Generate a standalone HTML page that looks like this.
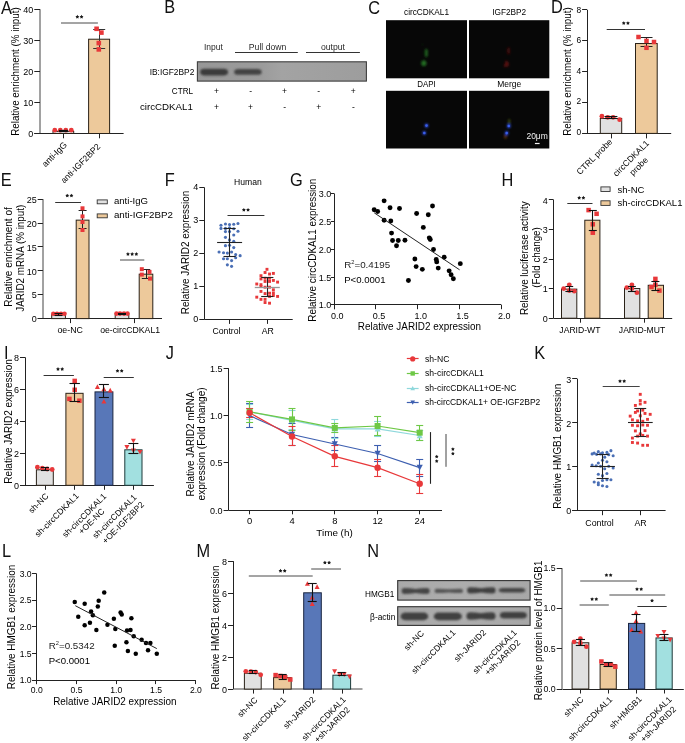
<!DOCTYPE html><html><head><meta charset="utf-8"><title>Figure</title><style>html,body{margin:0;padding:0;background:#fff;width:685px;height:743px;overflow:hidden}</style></head><body><svg width="685" height="743" viewBox="0 0 685 743" font-family='"Liberation Sans", sans-serif' style="display:block;will-change:transform"><text transform="translate(1.02 13.60) scale(0.92 1)" font-size="17.8" fill="#111">A</text>
<line x1="40.00" y1="9.20" x2="40.00" y2="133.50" stroke="#444" stroke-width="1"/>
<line x1="34.30" y1="133.50" x2="40.00" y2="133.50" stroke="#222" stroke-width="1"/>
<text x="33.30" y="137.25" font-size="9" text-anchor="end">0</text>
<line x1="34.30" y1="102.50" x2="40.00" y2="102.50" stroke="#222" stroke-width="1"/>
<text x="33.30" y="106.17" font-size="9" text-anchor="end">10</text>
<line x1="34.30" y1="71.50" x2="40.00" y2="71.50" stroke="#222" stroke-width="1"/>
<text x="33.30" y="75.10" font-size="9" text-anchor="end">20</text>
<line x1="34.30" y1="40.50" x2="40.00" y2="40.50" stroke="#222" stroke-width="1"/>
<text x="33.30" y="44.03" font-size="9" text-anchor="end">30</text>
<line x1="34.30" y1="9.50" x2="40.00" y2="9.50" stroke="#222" stroke-width="1"/>
<text x="33.30" y="12.95" font-size="9" text-anchor="end">40</text>
<text x="19.26" y="71.50" font-size="10.37" text-anchor="middle" textLength="128.50" lengthAdjust="spacingAndGlyphs" transform="rotate(-90 19.26 71.50)">Relative enrichment (% input)</text>
<line x1="34.30" y1="133.50" x2="123.60" y2="133.50" stroke="#222" stroke-width="1"/>
<rect x="53.00" y="131.36" width="20.70" height="2.14" fill="#e1e1e1" stroke="#2a2218" stroke-width="1.0"/>
<rect x="88.60" y="39.22" width="21.00" height="94.28" fill="#edc99b" stroke="#2a2218" stroke-width="1.0"/>
<circle cx="54.80" cy="130.20" r="2.40" fill="#e8383a"/>
<circle cx="60.30" cy="130.20" r="2.40" fill="#e8383a"/>
<circle cx="65.80" cy="130.20" r="2.40" fill="#e8383a"/>
<circle cx="71.30" cy="130.20" r="2.40" fill="#e8383a"/>
<line x1="63.50" y1="130.30" x2="63.50" y2="131.60" stroke="#111" stroke-width="1.2"/>
<line x1="58.90" y1="130.50" x2="67.90" y2="130.50" stroke="#111" stroke-width="1.2"/>
<line x1="58.90" y1="131.50" x2="67.90" y2="131.50" stroke="#111" stroke-width="1.2"/>
<line x1="99.50" y1="29.30" x2="99.50" y2="48.10" stroke="#333" stroke-width="1.0"/>
<line x1="93.20" y1="29.50" x2="105.20" y2="29.50" stroke="#333" stroke-width="1.0"/>
<line x1="93.20" y1="48.50" x2="105.20" y2="48.50" stroke="#333" stroke-width="1.0"/>
<rect x="94.30" y="26.50" width="4.60" height="4.60" fill="#e8383a"/>
<rect x="99.10" y="30.30" width="4.60" height="4.60" fill="#e8383a"/>
<rect x="96.50" y="40.80" width="4.60" height="4.60" fill="#e8383a"/>
<rect x="96.50" y="47.10" width="4.60" height="4.60" fill="#e8383a"/>
<line x1="63.50" y1="133.50" x2="63.50" y2="138.30" stroke="#222" stroke-width="1"/>
<line x1="99.50" y1="133.50" x2="99.50" y2="138.30" stroke="#222" stroke-width="1"/>
<line x1="61.00" y1="23.00" x2="97.90" y2="23.00" stroke="#4a4a4a" stroke-width="1.0"/>
<polygon points="77.35,14.80 78.00,15.91 79.25,16.18 78.40,17.14 78.53,18.42 77.35,17.90 76.17,18.42 76.30,17.14 75.45,16.18 76.70,15.91" fill="#1a1a1a"/>
<polygon points="81.55,14.80 82.20,15.91 83.45,16.18 82.60,17.14 82.73,18.42 81.55,17.90 80.37,18.42 80.50,17.14 79.65,16.18 80.90,15.91" fill="#1a1a1a"/>
<text x="56.54" y="156.44" font-size="8.8" text-anchor="middle" transform="rotate(-45 56.54 156.44)">anti-IgG</text>
<text x="82.59" y="165.44" font-size="8.6" text-anchor="middle" transform="rotate(-45 82.59 165.44)">anti-IGF2BP2</text>
<text transform="translate(164.16 13.40) scale(0.92 1)" font-size="17.8" fill="#111">B</text>
<text x="203.90" y="50.20" font-size="8.5" textLength="18.90" lengthAdjust="spacingAndGlyphs" fill="#2a2a2a">Input</text>
<text x="267.60" y="50.20" font-size="8.5" text-anchor="middle" textLength="37.50" lengthAdjust="spacingAndGlyphs" fill="#2a2a2a">Pull down</text>
<text x="320.90" y="50.00" font-size="8.5" textLength="24.10" lengthAdjust="spacingAndGlyphs" fill="#2a2a2a">output</text>
<line x1="235.00" y1="52.50" x2="297.80" y2="52.50" stroke="#333" stroke-width="1.1"/>
<line x1="306.00" y1="52.50" x2="359.90" y2="52.50" stroke="#333" stroke-width="1.1"/>
<defs><filter id="bb" x="-10%" y="-60%" width="120%" height="220%"><feGaussianBlur stdDeviation="0.9"/></filter><filter id="bl" x="-20%" y="-50%" width="140%" height="200%"><feGaussianBlur stdDeviation="1.0"/></filter><filter id="bl2" x="-20%" y="-80%" width="140%" height="260%"><feGaussianBlur stdDeviation="0.8"/></filter><filter id="glow" x="-100%" y="-100%" width="300%" height="300%"><feGaussianBlur stdDeviation="1.2"/></filter><linearGradient id="blotB" x1="0" x2="1" y1="0" y2="0"><stop offset="0" stop-color="#979797"/><stop offset="0.38" stop-color="#9b9b9b"/><stop offset="0.5" stop-color="#a3a3a3"/><stop offset="0.75" stop-color="#a0a0a0"/><stop offset="1" stop-color="#9d9d9d"/></linearGradient></defs>
<rect x="197.40" y="61.80" width="169.00" height="19.30" fill="url(#blotB)" stroke="#3e3e3e" stroke-width="1.1"/>
<rect x="200.10" y="68.70" width="28.00" height="6.80" rx="4.64" ry="3.70" fill="#3a3a3a" filter="url(#bb)"/>
<rect x="234.10" y="69.00" width="27.60" height="5.80" rx="4.58" ry="3.20" fill="#424242" filter="url(#bb)"/>
<text x="194.30" y="74.70" font-size="9" text-anchor="end" textLength="44.60" lengthAdjust="spacingAndGlyphs">IB:IGF2BP2</text>
<text x="193.10" y="93.90" font-size="9" text-anchor="end" textLength="21.30" lengthAdjust="spacingAndGlyphs">CTRL</text>
<text x="192.90" y="109.80" font-size="9.8" text-anchor="end" textLength="53.00" lengthAdjust="spacingAndGlyphs">circCDKAL1</text>
<text x="216.40" y="93.50" font-size="8.5" text-anchor="middle">+</text>
<text x="250.60" y="93.50" font-size="8.5" text-anchor="middle">-</text>
<text x="284.60" y="93.50" font-size="8.5" text-anchor="middle">+</text>
<text x="318.70" y="93.50" font-size="8.5" text-anchor="middle">-</text>
<text x="353.30" y="93.50" font-size="8.5" text-anchor="middle">+</text>
<text x="216.40" y="109.60" font-size="8.5" text-anchor="middle">+</text>
<text x="250.60" y="109.60" font-size="8.5" text-anchor="middle">+</text>
<text x="284.60" y="109.60" font-size="8.5" text-anchor="middle">-</text>
<text x="318.70" y="109.60" font-size="8.5" text-anchor="middle">+</text>
<text x="353.30" y="109.60" font-size="8.5" text-anchor="middle">-</text>
<text transform="translate(368.16 13.60) scale(0.92 1)" font-size="17.8" fill="#111">C</text>
<text x="426.50" y="15.10" font-size="8.5" text-anchor="middle" textLength="45.00" lengthAdjust="spacingAndGlyphs">circCDKAL1</text>
<text x="509.20" y="15.10" font-size="8.5" text-anchor="middle" textLength="34.00" lengthAdjust="spacingAndGlyphs">IGF2BP2</text>
<text x="426.50" y="87.40" font-size="8.5" text-anchor="middle" textLength="18.50" lengthAdjust="spacingAndGlyphs">DAPI</text>
<text x="509.20" y="87.40" font-size="8.5" text-anchor="middle" textLength="24.00" lengthAdjust="spacingAndGlyphs">Merge</text>
<rect x="386.00" y="20.20" width="81.00" height="58.10" fill="#070707"/>
<rect x="469.00" y="20.20" width="80.30" height="58.10" fill="#070707"/>
<rect x="386.00" y="90.80" width="81.00" height="57.70" fill="#070707"/>
<rect x="469.00" y="90.80" width="80.30" height="57.70" fill="#070707"/>
<g filter="url(#glow)"><ellipse cx="426.3" cy="53.0" rx="1.7" ry="4.2" fill="#1f5c1f"/><ellipse cx="423.8" cy="63.2" rx="2.6" ry="3.0" fill="#226a22"/><circle cx="422.5" cy="44.5" r="0.6" fill="#1a4a1a"/></g>
<g filter="url(#glow)"><ellipse cx="508.6" cy="50.8" rx="1.3" ry="3.6" fill="#4a0c0c"/><path d="M503.5,67 L506,60 L509,63 L508.5,66.5 Z" fill="#580e0e"/></g>
<g filter="url(#glow)"><ellipse cx="426.5" cy="125.6" rx="1.9" ry="2.2" fill="#2a48d0"/><ellipse cx="424.3" cy="133.0" rx="1.9" ry="2.1" fill="#2a48d0"/></g>
<circle cx="426.50" cy="125.60" r="1.30" fill="#3a5ee8"/>
<circle cx="424.30" cy="133.00" r="1.30" fill="#3a5ee8"/>
<g filter="url(#glow)"><ellipse cx="509.2" cy="121.5" rx="1.2" ry="2.8" fill="#3a4a14"/><ellipse cx="505.5" cy="136.5" rx="1.8" ry="2.4" fill="#4a2a0c"/><ellipse cx="508.8" cy="126" rx="1.9" ry="2.2" fill="#2a48d0"/><ellipse cx="506.7" cy="133.1" rx="1.9" ry="2.1" fill="#2a48d0"/></g>
<circle cx="508.80" cy="126.00" r="1.30" fill="#3a5ee8"/>
<circle cx="506.70" cy="133.10" r="1.30" fill="#3a5ee8"/>
<text x="526.40" y="139.10" font-size="8.5" textLength="21.50" lengthAdjust="spacingAndGlyphs" fill="#f2f2f2">20μm</text>
<line x1="534.90" y1="143.50" x2="539.60" y2="143.50" stroke="#f2f2f2" stroke-width="1.2"/>
<text transform="translate(550.96 13.20) scale(0.92 1)" font-size="17.8" fill="#111">D</text>
<line x1="587.50" y1="9.80" x2="587.50" y2="133.40" stroke="#222" stroke-width="1"/>
<line x1="582.10" y1="133.50" x2="587.10" y2="133.50" stroke="#222" stroke-width="1"/>
<text x="581.10" y="134.80" font-size="8.4" text-anchor="end">0</text>
<line x1="582.10" y1="102.50" x2="587.10" y2="102.50" stroke="#222" stroke-width="1"/>
<text x="581.10" y="104.40" font-size="8.4" text-anchor="end">2</text>
<line x1="582.10" y1="71.50" x2="587.10" y2="71.50" stroke="#222" stroke-width="1"/>
<text x="581.10" y="73.80" font-size="8.4" text-anchor="end">4</text>
<line x1="582.10" y1="40.50" x2="587.10" y2="40.50" stroke="#222" stroke-width="1"/>
<text x="581.10" y="43.20" font-size="8.4" text-anchor="end">6</text>
<line x1="582.10" y1="9.50" x2="587.10" y2="9.50" stroke="#222" stroke-width="1"/>
<text x="581.10" y="12.60" font-size="8.4" text-anchor="end">8</text>
<text x="571.16" y="71.50" font-size="10.37" text-anchor="middle" textLength="128.50" lengthAdjust="spacingAndGlyphs" transform="rotate(-90 571.16 71.50)">Relative enrichment (% input)</text>
<line x1="582.50" y1="133.50" x2="671.20" y2="133.50" stroke="#222" stroke-width="1"/>
<rect x="600.30" y="118.45" width="21.40" height="14.95" fill="#e1e1e1" stroke="#2a2218" stroke-width="1.0"/>
<rect x="635.50" y="43.52" width="21.70" height="89.88" fill="#edc99b" stroke="#2a2218" stroke-width="1.0"/>
<circle cx="601.90" cy="116.20" r="2.40" fill="#e8383a"/>
<circle cx="607.70" cy="117.30" r="2.40" fill="#e8383a"/>
<circle cx="613.10" cy="117.30" r="2.40" fill="#e8383a"/>
<circle cx="619.60" cy="119.70" r="2.40" fill="#e8383a"/>
<line x1="611.50" y1="116.20" x2="611.50" y2="118.60" stroke="#111" stroke-width="1.1"/>
<line x1="604.60" y1="116.50" x2="617.40" y2="116.50" stroke="#111" stroke-width="1.1"/>
<line x1="604.60" y1="118.50" x2="617.40" y2="118.50" stroke="#111" stroke-width="1.1"/>
<line x1="646.50" y1="37.70" x2="646.50" y2="46.30" stroke="#222" stroke-width="1.0"/>
<line x1="640.50" y1="37.50" x2="652.50" y2="37.50" stroke="#222" stroke-width="1.0"/>
<line x1="640.50" y1="46.50" x2="652.50" y2="46.50" stroke="#222" stroke-width="1.0"/>
<rect x="636.25" y="34.75" width="4.50" height="4.50" fill="#e8383a"/>
<rect x="644.25" y="38.65" width="4.50" height="4.50" fill="#e8383a"/>
<rect x="651.75" y="39.75" width="4.50" height="4.50" fill="#e8383a"/>
<rect x="644.25" y="45.55" width="4.50" height="4.50" fill="#e8383a"/>
<line x1="611.50" y1="133.40" x2="611.50" y2="138.40" stroke="#222" stroke-width="1"/>
<line x1="646.50" y1="133.40" x2="646.50" y2="138.40" stroke="#222" stroke-width="1"/>
<line x1="606.70" y1="29.50" x2="645.00" y2="29.50" stroke="#333" stroke-width="1.0"/>
<polygon points="623.75,21.20 624.40,22.31 625.65,22.58 624.80,23.54 624.93,24.82 623.75,24.30 622.57,24.82 622.70,23.54 621.85,22.58 623.10,22.31" fill="#1a1a1a"/>
<polygon points="627.95,21.20 628.60,22.31 629.85,22.58 629.00,23.54 629.13,24.82 627.95,24.30 626.77,24.82 626.90,23.54 626.05,22.58 627.30,22.31" fill="#1a1a1a"/>
<text x="596.54" y="158.79" font-size="8.6" text-anchor="middle" transform="rotate(-45 596.54 158.79)">CTRL probe</text>
<text x="633.14" y="160.39" font-size="8.6" text-anchor="middle" transform="rotate(-45 633.14 160.39)">circCDKAL1</text>
<text x="640.84" y="168.29" font-size="8.6" text-anchor="middle" transform="rotate(-45 640.84 168.29)">probe</text>
<text transform="translate(0.66 186.20) scale(0.92 1)" font-size="17.8" fill="#111">E</text>
<line x1="43.00" y1="199.10" x2="43.00" y2="318.60" stroke="#444" stroke-width="1"/>
<line x1="37.70" y1="318.50" x2="42.90" y2="318.50" stroke="#222" stroke-width="1"/>
<text x="36.70" y="322.35" font-size="9" text-anchor="end">0</text>
<line x1="37.70" y1="294.50" x2="42.90" y2="294.50" stroke="#222" stroke-width="1"/>
<text x="36.70" y="298.45" font-size="9" text-anchor="end">5</text>
<line x1="37.70" y1="270.50" x2="42.90" y2="270.50" stroke="#222" stroke-width="1"/>
<text x="36.70" y="274.55" font-size="9" text-anchor="end">10</text>
<line x1="37.70" y1="246.50" x2="42.90" y2="246.50" stroke="#222" stroke-width="1"/>
<text x="36.70" y="250.65" font-size="9" text-anchor="end">15</text>
<line x1="37.70" y1="223.50" x2="42.90" y2="223.50" stroke="#222" stroke-width="1"/>
<text x="36.70" y="226.75" font-size="9" text-anchor="end">20</text>
<line x1="37.70" y1="199.50" x2="42.90" y2="199.50" stroke="#222" stroke-width="1"/>
<text x="36.70" y="202.85" font-size="9" text-anchor="end">25</text>
<text x="12.16" y="257.00" font-size="10.37" text-anchor="middle" textLength="99.50" lengthAdjust="spacingAndGlyphs" transform="rotate(-90 12.16 257.00)">Relative enrichment of</text>
<text x="23.86" y="258.30" font-size="10.37" text-anchor="middle" textLength="107.00" lengthAdjust="spacingAndGlyphs" transform="rotate(-90 23.86 258.30)">JARID2 mRNA (% input)</text>
<line x1="37.70" y1="318.50" x2="162.00" y2="318.50" stroke="#222" stroke-width="1"/>
<rect x="51.70" y="314.56" width="13.70" height="4.04" fill="#e1e1e1" stroke="#2a2218" stroke-width="1.0"/>
<rect x="76.20" y="220.15" width="12.80" height="98.45" fill="#edc99b" stroke="#2a2218" stroke-width="1.0"/>
<rect x="115.20" y="314.32" width="13.60" height="4.28" fill="#e1e1e1" stroke="#2a2218" stroke-width="1.0"/>
<rect x="139.20" y="274.17" width="13.60" height="44.43" fill="#edc99b" stroke="#2a2218" stroke-width="1.0"/>
<circle cx="53.30" cy="313.80" r="2.30" fill="#e8383a"/>
<circle cx="57.00" cy="313.80" r="2.30" fill="#e8383a"/>
<circle cx="61.00" cy="313.80" r="2.30" fill="#e8383a"/>
<circle cx="64.50" cy="313.80" r="2.30" fill="#e8383a"/>
<line x1="58.50" y1="313.40" x2="58.50" y2="315.00" stroke="#111" stroke-width="1.1"/>
<line x1="54.50" y1="313.50" x2="62.50" y2="313.50" stroke="#111" stroke-width="1.1"/>
<line x1="54.50" y1="315.50" x2="62.50" y2="315.50" stroke="#111" stroke-width="1.1"/>
<circle cx="116.50" cy="313.60" r="2.30" fill="#e8383a"/>
<circle cx="120.00" cy="313.60" r="2.30" fill="#e8383a"/>
<circle cx="124.00" cy="313.60" r="2.30" fill="#e8383a"/>
<circle cx="127.50" cy="313.60" r="2.30" fill="#e8383a"/>
<line x1="122.50" y1="313.20" x2="122.50" y2="314.80" stroke="#111" stroke-width="1.1"/>
<line x1="118.00" y1="313.50" x2="126.00" y2="313.50" stroke="#111" stroke-width="1.1"/>
<line x1="118.00" y1="314.50" x2="126.00" y2="314.50" stroke="#111" stroke-width="1.1"/>
<line x1="82.50" y1="210.20" x2="82.50" y2="228.60" stroke="#222" stroke-width="1.0"/>
<line x1="78.60" y1="210.50" x2="86.60" y2="210.50" stroke="#222" stroke-width="1.0"/>
<line x1="78.60" y1="228.50" x2="86.60" y2="228.50" stroke="#222" stroke-width="1.0"/>
<rect x="80.50" y="206.30" width="4.00" height="4.00" fill="#e8383a"/>
<rect x="80.50" y="214.40" width="4.00" height="4.00" fill="#e8383a"/>
<rect x="80.50" y="220.00" width="4.00" height="4.00" fill="#e8383a"/>
<rect x="80.50" y="228.00" width="4.00" height="4.00" fill="#e8383a"/>
<line x1="146.50" y1="269.50" x2="146.50" y2="278.30" stroke="#222" stroke-width="1.0"/>
<line x1="141.80" y1="269.50" x2="150.20" y2="269.50" stroke="#222" stroke-width="1.0"/>
<line x1="141.80" y1="278.50" x2="150.20" y2="278.50" stroke="#222" stroke-width="1.0"/>
<rect x="139.80" y="267.20" width="4.00" height="4.00" fill="#e8383a"/>
<rect x="147.50" y="269.90" width="4.00" height="4.00" fill="#e8383a"/>
<rect x="139.80" y="272.60" width="4.00" height="4.00" fill="#e8383a"/>
<rect x="148.00" y="276.60" width="4.00" height="4.00" fill="#e8383a"/>
<line x1="70.50" y1="318.60" x2="70.50" y2="323.10" stroke="#222" stroke-width="1"/>
<line x1="134.50" y1="318.60" x2="134.50" y2="323.10" stroke="#222" stroke-width="1"/>
<line x1="55.20" y1="202.50" x2="81.00" y2="202.50" stroke="#333" stroke-width="1.0"/>
<polygon points="67.25,193.70 67.90,194.81 69.15,195.08 68.30,196.04 68.43,197.32 67.25,196.80 66.07,197.32 66.20,196.04 65.35,195.08 66.60,194.81" fill="#1a1a1a"/>
<polygon points="71.45,193.70 72.10,194.81 73.35,195.08 72.50,196.04 72.63,197.32 71.45,196.80 70.27,197.32 70.40,196.04 69.55,195.08 70.80,194.81" fill="#1a1a1a"/>
<line x1="120.00" y1="260.00" x2="144.30" y2="260.00" stroke="#4a4a4a" stroke-width="1.0"/>
<polygon points="127.95,252.10 128.60,253.21 129.85,253.48 129.00,254.44 129.13,255.72 127.95,255.20 126.77,255.72 126.90,254.44 126.05,253.48 127.30,253.21" fill="#1a1a1a"/>
<polygon points="132.15,252.10 132.80,253.21 134.05,253.48 133.20,254.44 133.33,255.72 132.15,255.20 130.97,255.72 131.10,254.44 130.25,253.48 131.50,253.21" fill="#1a1a1a"/>
<polygon points="136.35,252.10 137.00,253.21 138.25,253.48 137.40,254.44 137.53,255.72 136.35,255.20 135.17,255.72 135.30,254.44 134.45,253.48 135.70,253.21" fill="#1a1a1a"/>
<rect x="97.20" y="199.90" width="10.10" height="3.90" fill="#e1e1e1" stroke="#333" stroke-width="0.9"/>
<rect x="97.20" y="213.90" width="10.10" height="3.90" fill="#edc99b" stroke="#333" stroke-width="0.9"/>
<text x="113.90" y="204.20" font-size="9.5" textLength="34.20" lengthAdjust="spacingAndGlyphs">anti-IgG</text>
<text x="113.90" y="218.20" font-size="9.5" textLength="59.10" lengthAdjust="spacingAndGlyphs">anti-IGF2BP2</text>
<text x="70.15" y="333.00" font-size="8.8" text-anchor="middle">oe-NC</text>
<text x="130.15" y="333.00" font-size="8.7" text-anchor="middle">oe-circCDKAL1</text>
<text transform="translate(164.76 186.10) scale(0.92 1)" font-size="17.8" fill="#111">F</text>
<line x1="204.50" y1="187.40" x2="204.50" y2="319.40" stroke="#222" stroke-width="1"/>
<line x1="199.30" y1="319.50" x2="204.30" y2="319.50" stroke="#222" stroke-width="1"/>
<text x="198.30" y="322.40" font-size="9" text-anchor="end">0</text>
<line x1="199.30" y1="286.50" x2="204.30" y2="286.50" stroke="#222" stroke-width="1"/>
<text x="198.30" y="289.40" font-size="9" text-anchor="end">1</text>
<line x1="199.30" y1="253.50" x2="204.30" y2="253.50" stroke="#222" stroke-width="1"/>
<text x="198.30" y="256.40" font-size="9" text-anchor="end">2</text>
<line x1="199.30" y1="220.50" x2="204.30" y2="220.50" stroke="#222" stroke-width="1"/>
<text x="198.30" y="223.40" font-size="9" text-anchor="end">3</text>
<line x1="199.30" y1="187.50" x2="204.30" y2="187.50" stroke="#222" stroke-width="1"/>
<text x="198.30" y="190.40" font-size="9" text-anchor="end">4</text>
<text x="188.86" y="252.50" font-size="10.69" text-anchor="middle" textLength="123.50" lengthAdjust="spacingAndGlyphs" transform="rotate(-90 188.86 252.50)">Relative JARID2 expression</text>
<line x1="204.30" y1="319.50" x2="292.70" y2="319.50" stroke="#222" stroke-width="1"/>
<line x1="229.50" y1="319.40" x2="229.50" y2="323.90" stroke="#222" stroke-width="1"/>
<line x1="267.50" y1="319.40" x2="267.50" y2="323.90" stroke="#222" stroke-width="1"/>
<text x="247.90" y="185.30" font-size="8.6" text-anchor="middle">Human</text>
<line x1="227.50" y1="215.50" x2="264.40" y2="215.50" stroke="#333" stroke-width="1.0"/>
<polygon points="243.85,207.90 244.50,209.01 245.75,209.28 244.90,210.24 245.03,211.52 243.85,211.00 242.67,211.52 242.80,210.24 241.95,209.28 243.20,209.01" fill="#1a1a1a"/>
<polygon points="248.05,207.90 248.70,209.01 249.95,209.28 249.10,210.24 249.23,211.52 248.05,211.00 246.87,211.52 247.00,210.24 246.15,209.28 247.40,209.01" fill="#1a1a1a"/>
<circle cx="220.97" cy="225.22" r="1.55" fill="#4a6fb5"/>
<circle cx="225.45" cy="223.95" r="1.55" fill="#4a6fb5"/>
<circle cx="229.54" cy="224.58" r="1.55" fill="#4a6fb5"/>
<circle cx="233.75" cy="224.20" r="1.55" fill="#4a6fb5"/>
<circle cx="237.97" cy="223.56" r="1.55" fill="#4a6fb5"/>
<circle cx="220.97" cy="228.42" r="1.55" fill="#4a6fb5"/>
<circle cx="225.45" cy="228.42" r="1.55" fill="#4a6fb5"/>
<circle cx="229.54" cy="227.78" r="1.55" fill="#4a6fb5"/>
<circle cx="233.75" cy="228.80" r="1.55" fill="#4a6fb5"/>
<circle cx="225.45" cy="231.61" r="1.55" fill="#4a6fb5"/>
<circle cx="229.54" cy="231.61" r="1.55" fill="#4a6fb5"/>
<circle cx="237.97" cy="231.23" r="1.55" fill="#4a6fb5"/>
<circle cx="233.75" cy="235.06" r="1.55" fill="#4a6fb5"/>
<circle cx="225.45" cy="237.36" r="1.55" fill="#4a6fb5"/>
<circle cx="229.54" cy="239.92" r="1.55" fill="#4a6fb5"/>
<circle cx="233.75" cy="241.20" r="1.55" fill="#4a6fb5"/>
<circle cx="225.45" cy="245.67" r="1.55" fill="#4a6fb5"/>
<circle cx="229.54" cy="245.29" r="1.55" fill="#4a6fb5"/>
<circle cx="233.75" cy="247.59" r="1.55" fill="#4a6fb5"/>
<circle cx="219.06" cy="252.06" r="1.55" fill="#4a6fb5"/>
<circle cx="223.53" cy="252.70" r="1.55" fill="#4a6fb5"/>
<circle cx="227.36" cy="253.08" r="1.55" fill="#4a6fb5"/>
<circle cx="231.58" cy="252.06" r="1.55" fill="#4a6fb5"/>
<circle cx="235.67" cy="254.62" r="1.55" fill="#4a6fb5"/>
<circle cx="240.14" cy="255.64" r="1.55" fill="#4a6fb5"/>
<circle cx="223.53" cy="258.71" r="1.55" fill="#4a6fb5"/>
<circle cx="227.36" cy="258.71" r="1.55" fill="#4a6fb5"/>
<circle cx="231.58" cy="260.62" r="1.55" fill="#4a6fb5"/>
<circle cx="235.67" cy="257.81" r="1.55" fill="#4a6fb5"/>
<circle cx="227.36" cy="264.84" r="1.55" fill="#4a6fb5"/>
<circle cx="231.58" cy="266.37" r="1.55" fill="#4a6fb5"/>
<rect x="265.53" y="267.86" width="2.90" height="2.90" fill="#e8383a"/>
<rect x="263.61" y="271.06" width="2.90" height="2.90" fill="#e8383a"/>
<rect x="268.09" y="272.59" width="2.90" height="2.90" fill="#e8383a"/>
<rect x="271.92" y="271.95" width="2.90" height="2.90" fill="#e8383a"/>
<rect x="259.52" y="274.25" width="2.90" height="2.90" fill="#e8383a"/>
<rect x="259.52" y="277.45" width="2.90" height="2.90" fill="#e8383a"/>
<rect x="263.61" y="276.81" width="2.90" height="2.90" fill="#e8383a"/>
<rect x="268.09" y="276.81" width="2.90" height="2.90" fill="#e8383a"/>
<rect x="271.92" y="278.98" width="2.90" height="2.90" fill="#e8383a"/>
<rect x="276.14" y="280.64" width="2.90" height="2.90" fill="#e8383a"/>
<rect x="263.61" y="280.00" width="2.90" height="2.90" fill="#e8383a"/>
<rect x="268.09" y="280.00" width="2.90" height="2.90" fill="#e8383a"/>
<rect x="255.31" y="282.56" width="2.90" height="2.90" fill="#e8383a"/>
<rect x="259.52" y="283.20" width="2.90" height="2.90" fill="#e8383a"/>
<rect x="259.52" y="285.12" width="2.90" height="2.90" fill="#e8383a"/>
<rect x="263.61" y="285.75" width="2.90" height="2.90" fill="#e8383a"/>
<rect x="268.09" y="285.75" width="2.90" height="2.90" fill="#e8383a"/>
<rect x="271.92" y="288.31" width="2.90" height="2.90" fill="#e8383a"/>
<rect x="259.52" y="289.97" width="2.90" height="2.90" fill="#e8383a"/>
<rect x="263.61" y="292.14" width="2.90" height="2.90" fill="#e8383a"/>
<rect x="268.09" y="291.76" width="2.90" height="2.90" fill="#e8383a"/>
<rect x="271.92" y="291.51" width="2.90" height="2.90" fill="#e8383a"/>
<rect x="271.92" y="294.06" width="2.90" height="2.90" fill="#e8383a"/>
<rect x="276.14" y="294.96" width="2.90" height="2.90" fill="#e8383a"/>
<rect x="255.31" y="295.72" width="2.90" height="2.90" fill="#e8383a"/>
<rect x="259.52" y="297.90" width="2.90" height="2.90" fill="#e8383a"/>
<rect x="263.61" y="297.90" width="2.90" height="2.90" fill="#e8383a"/>
<rect x="263.61" y="301.09" width="2.90" height="2.90" fill="#e8383a"/>
<rect x="268.09" y="301.73" width="2.90" height="2.90" fill="#e8383a"/>
<rect x="268.09" y="294.96" width="2.90" height="2.90" fill="#e8383a"/>
<line x1="229.50" y1="228.20" x2="229.50" y2="256.30" stroke="#222" stroke-width="1.1"/>
<line x1="223.50" y1="228.50" x2="235.70" y2="228.50" stroke="#222" stroke-width="1.1"/>
<line x1="223.50" y1="256.50" x2="235.70" y2="256.50" stroke="#222" stroke-width="1.1"/>
<line x1="217.10" y1="242.50" x2="242.10" y2="242.50" stroke="#222" stroke-width="1.1"/>
<line x1="267.50" y1="277.40" x2="267.50" y2="296.10" stroke="#222" stroke-width="1.1"/>
<line x1="261.20" y1="277.50" x2="273.40" y2="277.50" stroke="#222" stroke-width="1.1"/>
<line x1="261.20" y1="296.50" x2="273.40" y2="296.50" stroke="#222" stroke-width="1.1"/>
<line x1="254.80" y1="287.50" x2="279.80" y2="287.50" stroke="#999" stroke-width="1.3"/>
<text x="226.50" y="334.30" font-size="8.7" text-anchor="middle">Control</text>
<text x="267.80" y="334.30" font-size="8.7" text-anchor="middle">AR</text>
<text transform="translate(290.08 186.20) scale(0.92 1)" font-size="17.8" fill="#111">G</text>
<line x1="334.50" y1="193.50" x2="334.50" y2="309.20" stroke="#222" stroke-width="1"/>
<line x1="330.90" y1="304.50" x2="334.20" y2="304.50" stroke="#222" stroke-width="1"/>
<text x="331.20" y="308.40" font-size="9" text-anchor="end">1.0</text>
<line x1="330.90" y1="277.50" x2="334.20" y2="277.50" stroke="#222" stroke-width="1"/>
<text x="331.20" y="280.62" font-size="9" text-anchor="end">1.5</text>
<line x1="330.90" y1="249.50" x2="334.20" y2="249.50" stroke="#222" stroke-width="1"/>
<text x="331.20" y="252.85" font-size="9" text-anchor="end">2.0</text>
<line x1="330.90" y1="221.50" x2="334.20" y2="221.50" stroke="#222" stroke-width="1"/>
<text x="331.20" y="225.07" font-size="9" text-anchor="end">2.5</text>
<line x1="330.90" y1="193.50" x2="334.20" y2="193.50" stroke="#222" stroke-width="1"/>
<text x="331.20" y="197.30" font-size="9" text-anchor="end">3.0</text>
<line x1="334.20" y1="304.50" x2="501.30" y2="304.50" stroke="#222" stroke-width="1"/>
<line x1="334.50" y1="304.90" x2="334.50" y2="309.20" stroke="#222" stroke-width="1"/>
<text x="337.20" y="318.90" font-size="9" text-anchor="middle">0.0</text>
<line x1="375.50" y1="304.90" x2="375.50" y2="309.20" stroke="#222" stroke-width="1"/>
<text x="378.95" y="318.90" font-size="9" text-anchor="middle">0.5</text>
<line x1="417.50" y1="304.90" x2="417.50" y2="309.20" stroke="#222" stroke-width="1"/>
<text x="420.70" y="318.90" font-size="9" text-anchor="middle">1.0</text>
<line x1="459.50" y1="304.90" x2="459.50" y2="309.20" stroke="#222" stroke-width="1"/>
<text x="462.45" y="318.90" font-size="9" text-anchor="middle">1.5</text>
<line x1="501.50" y1="304.90" x2="501.50" y2="309.20" stroke="#222" stroke-width="1"/>
<text x="504.20" y="318.90" font-size="9" text-anchor="middle">2.0</text>
<text x="419.45" y="329.70" font-size="10.69" text-anchor="middle" textLength="123.25" lengthAdjust="spacingAndGlyphs">Relative JARID2 expression</text>
<text x="315.56" y="250.20" font-size="10.69" text-anchor="middle" textLength="143.06" lengthAdjust="spacingAndGlyphs" transform="rotate(-90 315.56 250.20)">Relative circCDKAL1 expression</text>
<circle cx="374.18" cy="209.78" r="2.45" fill="#000"/>
<circle cx="377.65" cy="211.52" r="2.45" fill="#000"/>
<circle cx="384.11" cy="200.85" r="2.45" fill="#000"/>
<circle cx="390.06" cy="207.80" r="2.45" fill="#000"/>
<circle cx="399.50" cy="208.54" r="2.45" fill="#000"/>
<circle cx="384.11" cy="220.21" r="2.45" fill="#000"/>
<circle cx="390.81" cy="220.95" r="2.45" fill="#000"/>
<circle cx="391.55" cy="233.11" r="2.45" fill="#000"/>
<circle cx="392.55" cy="240.56" r="2.45" fill="#000"/>
<circle cx="398.26" cy="240.56" r="2.45" fill="#000"/>
<circle cx="396.52" cy="245.77" r="2.45" fill="#000"/>
<circle cx="404.96" cy="240.31" r="2.45" fill="#000"/>
<circle cx="416.62" cy="213.51" r="2.45" fill="#000"/>
<circle cx="432.51" cy="206.06" r="2.45" fill="#000"/>
<circle cx="428.29" cy="214.75" r="2.45" fill="#000"/>
<circle cx="423.32" cy="227.41" r="2.45" fill="#000"/>
<circle cx="429.28" cy="237.83" r="2.45" fill="#000"/>
<circle cx="430.27" cy="239.57" r="2.45" fill="#000"/>
<circle cx="433.50" cy="249.50" r="2.45" fill="#000"/>
<circle cx="444.17" cy="257.19" r="2.45" fill="#000"/>
<circle cx="414.88" cy="258.93" r="2.45" fill="#000"/>
<circle cx="416.13" cy="266.62" r="2.45" fill="#000"/>
<circle cx="422.33" cy="269.35" r="2.45" fill="#000"/>
<circle cx="436.23" cy="259.42" r="2.45" fill="#000"/>
<circle cx="436.73" cy="261.91" r="2.45" fill="#000"/>
<circle cx="438.22" cy="268.11" r="2.45" fill="#000"/>
<circle cx="449.14" cy="270.84" r="2.45" fill="#000"/>
<circle cx="451.12" cy="274.81" r="2.45" fill="#000"/>
<circle cx="453.36" cy="278.78" r="2.45" fill="#000"/>
<circle cx="460.31" cy="263.64" r="2.45" fill="#000"/>
<circle cx="408.43" cy="280.52" r="2.45" fill="#000"/>
<line x1="374.20" y1="212.80" x2="459.60" y2="269.80" stroke="#222" stroke-width="1.0"/>
<text x="344.20" y="267.90" font-size="9.8" fill="#1e1e1e">R<tspan font-size="5.68" dy="-3.72">2</tspan><tspan dy="3.72">=0.4195</tspan></text>
<text x="344.20" y="282.70" font-size="9.6">P&lt;0.0001</text>
<text transform="translate(501.46 186.40) scale(0.92 1)" font-size="17.8" fill="#111">H</text>
<line x1="553.50" y1="199.92" x2="553.50" y2="318.20" stroke="#222" stroke-width="1"/>
<line x1="548.80" y1="318.50" x2="553.60" y2="318.50" stroke="#222" stroke-width="1"/>
<text x="547.80" y="321.95" font-size="9" text-anchor="end">0</text>
<line x1="548.80" y1="288.50" x2="553.60" y2="288.50" stroke="#222" stroke-width="1"/>
<text x="547.80" y="292.38" font-size="9" text-anchor="end">1</text>
<line x1="548.80" y1="259.50" x2="553.60" y2="259.50" stroke="#222" stroke-width="1"/>
<text x="547.80" y="262.81" font-size="9" text-anchor="end">2</text>
<line x1="548.80" y1="229.50" x2="553.60" y2="229.50" stroke="#222" stroke-width="1"/>
<text x="547.80" y="233.24" font-size="9" text-anchor="end">3</text>
<line x1="548.80" y1="199.50" x2="553.60" y2="199.50" stroke="#222" stroke-width="1"/>
<text x="547.80" y="203.67" font-size="9" text-anchor="end">4</text>
<text x="528.36" y="258.20" font-size="10.69" text-anchor="middle" textLength="113.80" lengthAdjust="spacingAndGlyphs" transform="rotate(-90 528.36 258.20)">Relative luciferase activity</text>
<text x="539.86" y="257.40" font-size="10.69" text-anchor="middle" textLength="60.50" lengthAdjust="spacingAndGlyphs" transform="rotate(-90 539.86 257.40)">(Fold change)</text>
<line x1="553.60" y1="318.50" x2="672.20" y2="318.50" stroke="#222" stroke-width="1"/>
<rect x="561.50" y="289.13" width="15.30" height="29.07" fill="#e1e1e1" stroke="#2a2218" stroke-width="1.0"/>
<rect x="584.80" y="220.23" width="15.10" height="97.97" fill="#edc99b" stroke="#2a2218" stroke-width="1.0"/>
<rect x="624.50" y="288.54" width="15.30" height="29.66" fill="#e1e1e1" stroke="#2a2218" stroke-width="1.0"/>
<rect x="648.20" y="285.29" width="15.30" height="32.91" fill="#edc99b" stroke="#2a2218" stroke-width="1.0"/>
<line x1="580.50" y1="318.20" x2="580.50" y2="322.70" stroke="#222" stroke-width="1"/>
<line x1="644.50" y1="318.20" x2="644.50" y2="322.70" stroke="#222" stroke-width="1"/>
<line x1="567.30" y1="203.50" x2="592.50" y2="203.50" stroke="#333" stroke-width="1.0"/>
<polygon points="579.20,195.80 579.85,196.91 581.10,197.18 580.25,198.14 580.38,199.42 579.20,198.90 578.02,199.42 578.15,198.14 577.30,197.18 578.55,196.91" fill="#1a1a1a"/>
<polygon points="583.40,195.80 584.05,196.91 585.30,197.18 584.45,198.14 584.58,199.42 583.40,198.90 582.22,199.42 582.35,198.14 581.50,197.18 582.75,196.91" fill="#1a1a1a"/>
<rect x="600.90" y="186.90" width="9.20" height="4.60" fill="#e1e1e1" stroke="#333" stroke-width="0.9"/>
<rect x="600.90" y="200.80" width="9.20" height="4.60" fill="#edc99b" stroke="#333" stroke-width="0.9"/>
<text x="617.50" y="192.50" font-size="9.5">sh-NC</text>
<text x="617.50" y="206.40" font-size="9.5">sh-circCDKAL1</text>
<text x="579.90" y="332.90" font-size="8.6" text-anchor="middle">JARID-WT</text>
<text x="642.00" y="332.90" font-size="8.6" text-anchor="middle">JARID-MUT</text>
<text transform="translate(3.99 358.50) scale(0.92 1)" font-size="17.8" fill="#111">I</text>
<line x1="25.50" y1="357.30" x2="25.50" y2="485.30" stroke="#222" stroke-width="1"/>
<line x1="20.00" y1="485.50" x2="25.00" y2="485.50" stroke="#222" stroke-width="1"/>
<text x="19.00" y="489.05" font-size="9" text-anchor="end">0</text>
<line x1="20.00" y1="453.50" x2="25.00" y2="453.50" stroke="#222" stroke-width="1"/>
<text x="19.00" y="457.05" font-size="9" text-anchor="end">2</text>
<line x1="20.00" y1="421.50" x2="25.00" y2="421.50" stroke="#222" stroke-width="1"/>
<text x="19.00" y="425.05" font-size="9" text-anchor="end">4</text>
<line x1="20.00" y1="389.50" x2="25.00" y2="389.50" stroke="#222" stroke-width="1"/>
<text x="19.00" y="393.05" font-size="9" text-anchor="end">6</text>
<line x1="20.00" y1="357.50" x2="25.00" y2="357.50" stroke="#222" stroke-width="1"/>
<text x="19.00" y="361.05" font-size="9" text-anchor="end">8</text>
<text x="11.56" y="421.40" font-size="10.69" text-anchor="middle" textLength="124.50" lengthAdjust="spacingAndGlyphs" transform="rotate(-90 11.56 421.40)">Relative JARID2 expression</text>
<line x1="25.00" y1="485.50" x2="153.90" y2="485.50" stroke="#222" stroke-width="1"/>
<rect x="36.40" y="469.80" width="16.90" height="15.50" fill="#e1e1e1" stroke="#2a2218" stroke-width="1.0"/>
<rect x="65.90" y="393.32" width="17.20" height="91.98" fill="#edc99b" stroke="#2a2218" stroke-width="1.0"/>
<rect x="95.00" y="391.88" width="17.90" height="93.42" fill="#5877b8" stroke="#1a2540" stroke-width="1.0"/>
<rect x="124.80" y="449.80" width="17.20" height="35.50" fill="#a2e0e0" stroke="#1e3a3a" stroke-width="1.0"/>
<line x1="45.50" y1="485.30" x2="45.50" y2="489.80" stroke="#222" stroke-width="1"/>
<line x1="74.50" y1="485.30" x2="74.50" y2="489.80" stroke="#222" stroke-width="1"/>
<line x1="104.50" y1="485.30" x2="104.50" y2="489.80" stroke="#222" stroke-width="1"/>
<line x1="133.50" y1="485.30" x2="133.50" y2="489.80" stroke="#222" stroke-width="1"/>
<line x1="43.60" y1="375.50" x2="73.90" y2="375.50" stroke="#333" stroke-width="1.0"/>
<polygon points="58.00,367.10 58.65,368.21 59.90,368.48 59.05,369.44 59.18,370.72 58.00,370.20 56.82,370.72 56.95,369.44 56.10,368.48 57.35,368.21" fill="#1a1a1a"/>
<polygon points="62.20,367.10 62.85,368.21 64.10,368.48 63.25,369.44 63.38,370.72 62.20,370.20 61.02,370.72 61.15,369.44 60.30,368.48 61.55,368.21" fill="#1a1a1a"/>
<line x1="103.70" y1="377.50" x2="133.80" y2="377.50" stroke="#333" stroke-width="1.0"/>
<polygon points="117.50,369.00 118.15,370.11 119.40,370.38 118.55,371.34 118.68,372.62 117.50,372.10 116.32,372.62 116.45,371.34 115.60,370.38 116.85,370.11" fill="#1a1a1a"/>
<polygon points="121.70,369.00 122.35,370.11 123.60,370.38 122.75,371.34 122.88,372.62 121.70,372.10 120.52,372.62 120.65,371.34 119.80,370.38 121.05,370.11" fill="#1a1a1a"/>
<text x="40.51" y="505.21" font-size="8.5" text-anchor="middle" transform="rotate(-45 40.51 505.21)">sh-NC</text>
<text x="58.86" y="517.06" font-size="8.5" text-anchor="middle" transform="rotate(-45 58.86 517.06)">sh-circCDKAL1</text>
<text x="86.26" y="517.56" font-size="8.5" text-anchor="middle" transform="rotate(-45 86.26 517.56)">sh-circCDKAL1</text>
<text x="93.56" y="523.26" font-size="8.5" text-anchor="middle" transform="rotate(-45 93.56 523.26)">+OE-NC</text>
<text x="116.66" y="518.51" font-size="8.5" text-anchor="middle" transform="rotate(-45 116.66 518.51)">sh-circCDKAL1</text>
<text x="125.16" y="524.66" font-size="8.5" text-anchor="middle" transform="rotate(-45 125.16 524.66)">+OE-IGF2BP2</text>
<text transform="translate(165.84 358.50) scale(0.92 1)" font-size="17.8" fill="#111">J</text>
<line x1="228.50" y1="368.20" x2="228.50" y2="510.30" stroke="#222" stroke-width="1"/>
<line x1="223.60" y1="510.50" x2="228.60" y2="510.50" stroke="#222" stroke-width="1"/>
<text x="222.60" y="513.70" font-size="9" text-anchor="end">0.0</text>
<line x1="223.60" y1="462.50" x2="228.60" y2="462.50" stroke="#222" stroke-width="1"/>
<text x="222.60" y="466.35" font-size="9" text-anchor="end">0.5</text>
<line x1="223.60" y1="415.50" x2="228.60" y2="415.50" stroke="#222" stroke-width="1"/>
<text x="222.60" y="419.00" font-size="9" text-anchor="end">1.0</text>
<line x1="223.60" y1="368.50" x2="228.60" y2="368.50" stroke="#222" stroke-width="1"/>
<text x="222.60" y="371.65" font-size="9" text-anchor="end">1.5</text>
<line x1="228.60" y1="510.50" x2="442.00" y2="510.50" stroke="#222" stroke-width="1"/>
<line x1="249.50" y1="510.30" x2="249.50" y2="514.30" stroke="#222" stroke-width="1"/>
<text x="249.60" y="523.60" font-size="9.4" text-anchor="middle">0</text>
<line x1="292.50" y1="510.30" x2="292.50" y2="514.30" stroke="#222" stroke-width="1"/>
<text x="292.00" y="523.60" font-size="9.4" text-anchor="middle">4</text>
<line x1="334.50" y1="510.30" x2="334.50" y2="514.30" stroke="#222" stroke-width="1"/>
<text x="334.80" y="523.60" font-size="9.4" text-anchor="middle">8</text>
<line x1="377.50" y1="510.30" x2="377.50" y2="514.30" stroke="#222" stroke-width="1"/>
<text x="377.60" y="523.60" font-size="9.4" text-anchor="middle">12</text>
<line x1="419.50" y1="510.30" x2="419.50" y2="514.30" stroke="#222" stroke-width="1"/>
<text x="419.70" y="523.60" font-size="9.4" text-anchor="middle">24</text>
<text x="334.50" y="536.20" font-size="9.9" text-anchor="middle">Time (h)</text>
<text x="193.76" y="443.90" font-size="10.69" text-anchor="middle" textLength="105.00" lengthAdjust="spacingAndGlyphs" transform="rotate(-90 193.76 443.90)">Relative JARID2 mRNA</text>
<text x="204.60" y="443.90" font-size="10.8" text-anchor="middle" textLength="113.00" lengthAdjust="spacingAndGlyphs" transform="rotate(-90 204.60 443.90)">expression (Fold change)</text>
<polyline points="249.60,415.60 292.00,434.54 334.80,444.01 377.60,453.48 419.70,467.69" fill="none" stroke="#3d5fb0" stroke-width="1.2"/>
<line x1="249.50" y1="403.29" x2="249.50" y2="427.91" stroke="#3d5fb0" stroke-width="1.1"/>
<line x1="246.10" y1="403.50" x2="253.10" y2="403.50" stroke="#3d5fb0" stroke-width="1.1"/>
<line x1="246.10" y1="427.50" x2="253.10" y2="427.50" stroke="#3d5fb0" stroke-width="1.1"/>
<line x1="292.50" y1="423.18" x2="292.50" y2="445.90" stroke="#3d5fb0" stroke-width="1.1"/>
<line x1="288.50" y1="423.50" x2="295.50" y2="423.50" stroke="#3d5fb0" stroke-width="1.1"/>
<line x1="288.50" y1="445.50" x2="295.50" y2="445.50" stroke="#3d5fb0" stroke-width="1.1"/>
<line x1="334.50" y1="437.38" x2="334.50" y2="450.64" stroke="#3d5fb0" stroke-width="1.1"/>
<line x1="331.30" y1="437.50" x2="338.30" y2="437.50" stroke="#3d5fb0" stroke-width="1.1"/>
<line x1="331.30" y1="450.50" x2="338.30" y2="450.50" stroke="#3d5fb0" stroke-width="1.1"/>
<line x1="377.50" y1="445.90" x2="377.50" y2="461.06" stroke="#3d5fb0" stroke-width="1.1"/>
<line x1="374.10" y1="445.50" x2="381.10" y2="445.50" stroke="#3d5fb0" stroke-width="1.1"/>
<line x1="374.10" y1="461.50" x2="381.10" y2="461.50" stroke="#3d5fb0" stroke-width="1.1"/>
<line x1="419.50" y1="459.16" x2="419.50" y2="476.21" stroke="#3d5fb0" stroke-width="1.1"/>
<line x1="416.20" y1="459.50" x2="423.20" y2="459.50" stroke="#3d5fb0" stroke-width="1.1"/>
<line x1="416.20" y1="476.50" x2="423.20" y2="476.50" stroke="#3d5fb0" stroke-width="1.1"/>
<polyline points="249.60,411.81 292.00,420.34 334.80,428.86 377.60,428.86 419.70,435.49" fill="none" stroke="#8fd8dc" stroke-width="1.2"/>
<line x1="249.50" y1="404.24" x2="249.50" y2="419.39" stroke="#8fd8dc" stroke-width="1.1"/>
<line x1="246.10" y1="404.50" x2="253.10" y2="404.50" stroke="#8fd8dc" stroke-width="1.1"/>
<line x1="246.10" y1="419.50" x2="253.10" y2="419.50" stroke="#8fd8dc" stroke-width="1.1"/>
<line x1="292.50" y1="410.87" x2="292.50" y2="429.81" stroke="#8fd8dc" stroke-width="1.1"/>
<line x1="288.50" y1="410.50" x2="295.50" y2="410.50" stroke="#8fd8dc" stroke-width="1.1"/>
<line x1="288.50" y1="429.50" x2="295.50" y2="429.50" stroke="#8fd8dc" stroke-width="1.1"/>
<line x1="334.50" y1="419.39" x2="334.50" y2="438.33" stroke="#8fd8dc" stroke-width="1.1"/>
<line x1="331.30" y1="419.50" x2="338.30" y2="419.50" stroke="#8fd8dc" stroke-width="1.1"/>
<line x1="331.30" y1="438.50" x2="338.30" y2="438.50" stroke="#8fd8dc" stroke-width="1.1"/>
<line x1="377.50" y1="421.28" x2="377.50" y2="436.43" stroke="#8fd8dc" stroke-width="1.1"/>
<line x1="374.10" y1="421.50" x2="381.10" y2="421.50" stroke="#8fd8dc" stroke-width="1.1"/>
<line x1="374.10" y1="436.50" x2="381.10" y2="436.50" stroke="#8fd8dc" stroke-width="1.1"/>
<line x1="419.50" y1="430.75" x2="419.50" y2="440.22" stroke="#8fd8dc" stroke-width="1.1"/>
<line x1="416.20" y1="430.50" x2="423.20" y2="430.50" stroke="#8fd8dc" stroke-width="1.1"/>
<line x1="416.20" y1="440.50" x2="423.20" y2="440.50" stroke="#8fd8dc" stroke-width="1.1"/>
<polyline points="249.60,411.81 292.00,419.39 334.80,427.91 377.60,426.02 419.70,432.65" fill="none" stroke="#6ec846" stroke-width="1.2"/>
<line x1="249.50" y1="401.40" x2="249.50" y2="422.23" stroke="#6ec846" stroke-width="1.1"/>
<line x1="246.10" y1="401.50" x2="253.10" y2="401.50" stroke="#6ec846" stroke-width="1.1"/>
<line x1="246.10" y1="422.50" x2="253.10" y2="422.50" stroke="#6ec846" stroke-width="1.1"/>
<line x1="292.50" y1="408.02" x2="292.50" y2="430.75" stroke="#6ec846" stroke-width="1.1"/>
<line x1="288.50" y1="408.50" x2="295.50" y2="408.50" stroke="#6ec846" stroke-width="1.1"/>
<line x1="288.50" y1="430.50" x2="295.50" y2="430.50" stroke="#6ec846" stroke-width="1.1"/>
<line x1="334.50" y1="423.18" x2="334.50" y2="432.65" stroke="#6ec846" stroke-width="1.1"/>
<line x1="331.30" y1="423.50" x2="338.30" y2="423.50" stroke="#6ec846" stroke-width="1.1"/>
<line x1="331.30" y1="432.50" x2="338.30" y2="432.50" stroke="#6ec846" stroke-width="1.1"/>
<line x1="377.50" y1="416.55" x2="377.50" y2="435.49" stroke="#6ec846" stroke-width="1.1"/>
<line x1="374.10" y1="416.50" x2="381.10" y2="416.50" stroke="#6ec846" stroke-width="1.1"/>
<line x1="374.10" y1="435.50" x2="381.10" y2="435.50" stroke="#6ec846" stroke-width="1.1"/>
<line x1="419.50" y1="425.07" x2="419.50" y2="440.22" stroke="#6ec846" stroke-width="1.1"/>
<line x1="416.20" y1="425.50" x2="423.20" y2="425.50" stroke="#6ec846" stroke-width="1.1"/>
<line x1="416.20" y1="440.50" x2="423.20" y2="440.50" stroke="#6ec846" stroke-width="1.1"/>
<polyline points="249.60,412.76 292.00,436.43 334.80,456.32 377.60,467.69 419.70,483.78" fill="none" stroke="#e8383a" stroke-width="1.2"/>
<line x1="249.50" y1="408.02" x2="249.50" y2="417.49" stroke="#e8383a" stroke-width="1.1"/>
<line x1="246.10" y1="408.50" x2="253.10" y2="408.50" stroke="#e8383a" stroke-width="1.1"/>
<line x1="246.10" y1="417.50" x2="253.10" y2="417.50" stroke="#e8383a" stroke-width="1.1"/>
<line x1="292.50" y1="426.96" x2="292.50" y2="445.90" stroke="#e8383a" stroke-width="1.1"/>
<line x1="288.50" y1="426.50" x2="295.50" y2="426.50" stroke="#e8383a" stroke-width="1.1"/>
<line x1="288.50" y1="445.50" x2="295.50" y2="445.50" stroke="#e8383a" stroke-width="1.1"/>
<line x1="334.50" y1="445.90" x2="334.50" y2="466.74" stroke="#e8383a" stroke-width="1.1"/>
<line x1="331.30" y1="445.50" x2="338.30" y2="445.50" stroke="#e8383a" stroke-width="1.1"/>
<line x1="331.30" y1="466.50" x2="338.30" y2="466.50" stroke="#e8383a" stroke-width="1.1"/>
<line x1="377.50" y1="459.16" x2="377.50" y2="476.21" stroke="#e8383a" stroke-width="1.1"/>
<line x1="374.10" y1="459.50" x2="381.10" y2="459.50" stroke="#e8383a" stroke-width="1.1"/>
<line x1="374.10" y1="476.50" x2="381.10" y2="476.50" stroke="#e8383a" stroke-width="1.1"/>
<line x1="419.50" y1="474.31" x2="419.50" y2="493.25" stroke="#e8383a" stroke-width="1.1"/>
<line x1="416.20" y1="474.50" x2="423.20" y2="474.50" stroke="#e8383a" stroke-width="1.1"/>
<line x1="416.20" y1="493.50" x2="423.20" y2="493.50" stroke="#e8383a" stroke-width="1.1"/>
<polygon points="249.60,418.45 252.70,412.75 246.50,412.75" fill="#3d5fb0"/>
<polygon points="292.00,437.39 295.10,431.69 288.90,431.69" fill="#3d5fb0"/>
<polygon points="334.80,446.86 337.90,441.16 331.70,441.16" fill="#3d5fb0"/>
<polygon points="377.60,456.33 380.70,450.63 374.50,450.63" fill="#3d5fb0"/>
<polygon points="419.70,470.54 422.80,464.83 416.60,464.83" fill="#3d5fb0"/>
<polygon points="249.60,409.05 252.60,414.57 246.60,414.57" fill="#8fd8dc"/>
<polygon points="292.00,417.58 295.00,423.10 289.00,423.10" fill="#8fd8dc"/>
<polygon points="334.80,426.10 337.80,431.62 331.80,431.62" fill="#8fd8dc"/>
<polygon points="377.60,426.10 380.60,431.62 374.60,431.62" fill="#8fd8dc"/>
<polygon points="419.70,432.73 422.70,438.25 416.70,438.25" fill="#8fd8dc"/>
<rect x="246.60" y="408.81" width="6.00" height="6.00" fill="#6ec846"/>
<rect x="289.00" y="416.39" width="6.00" height="6.00" fill="#6ec846"/>
<rect x="331.80" y="424.91" width="6.00" height="6.00" fill="#6ec846"/>
<rect x="374.60" y="423.02" width="6.00" height="6.00" fill="#6ec846"/>
<rect x="416.70" y="429.65" width="6.00" height="6.00" fill="#6ec846"/>
<circle cx="249.60" cy="412.76" r="3.20" fill="#e8383a"/>
<circle cx="292.00" cy="436.43" r="3.20" fill="#e8383a"/>
<circle cx="334.80" cy="456.32" r="3.20" fill="#e8383a"/>
<circle cx="377.60" cy="467.69" r="3.20" fill="#e8383a"/>
<circle cx="419.70" cy="483.78" r="3.20" fill="#e8383a"/>
<line x1="430.50" y1="432.10" x2="430.50" y2="483.80" stroke="#222" stroke-width="1.1"/>
<polygon points="436.70,454.80 437.31,455.85 438.51,456.11 437.69,457.02 437.82,458.24 436.70,457.75 435.58,458.24 435.71,457.02 434.89,456.11 436.09,455.85" fill="#1a1a1a"/>
<polygon points="436.70,459.20 437.31,460.25 438.51,460.51 437.69,461.42 437.82,462.64 436.70,462.15 435.58,462.64 435.71,461.42 434.89,460.51 436.09,460.25" fill="#1a1a1a"/>
<line x1="446.00" y1="434.00" x2="446.00" y2="466.80" stroke="#444" stroke-width="1.0"/>
<polygon points="452.90,447.30 453.51,448.35 454.71,448.61 453.89,449.52 454.02,450.74 452.90,450.25 451.78,450.74 451.91,449.52 451.09,448.61 452.29,448.35" fill="#1a1a1a"/>
<polygon points="452.90,451.70 453.51,452.75 454.71,453.01 453.89,453.92 454.02,455.14 452.90,454.65 451.78,455.14 451.91,453.92 451.09,453.01 452.29,452.75" fill="#1a1a1a"/>
<line x1="406.80" y1="358.50" x2="418.60" y2="358.50" stroke="#e8383a" stroke-width="1.2"/>
<circle cx="412.70" cy="358.90" r="2.60" fill="#e8383a"/>
<text x="425.00" y="361.50" font-size="8.6">sh-NC</text>
<line x1="406.80" y1="373.50" x2="418.60" y2="373.50" stroke="#6ec846" stroke-width="1.2"/>
<rect x="410.50" y="371.27" width="4.40" height="4.40" fill="#6ec846"/>
<text x="425.00" y="376.07" font-size="8.6">sh-circCDKAL1</text>
<line x1="406.80" y1="388.50" x2="418.60" y2="388.50" stroke="#8fd8dc" stroke-width="1.2"/>
<polygon points="412.70,385.92 415.00,390.16 410.40,390.16" fill="#8fd8dc"/>
<text x="425.00" y="390.64" font-size="8.6">sh-circCDKAL1+OE-NC</text>
<line x1="406.80" y1="402.50" x2="418.60" y2="402.50" stroke="#3d5fb0" stroke-width="1.2"/>
<polygon points="412.70,404.73 415.00,400.49 410.40,400.49" fill="#3d5fb0"/>
<text x="425.00" y="405.21" font-size="8.6" textLength="115.30" lengthAdjust="spacingAndGlyphs">sh-circCDKAL1+ OE-IGF2BP2</text>
<text transform="translate(534.36 358.60) scale(0.92 1)" font-size="17.8" fill="#111">K</text>
<line x1="577.50" y1="378.79" x2="577.50" y2="510.70" stroke="#222" stroke-width="1"/>
<line x1="572.20" y1="510.50" x2="577.20" y2="510.50" stroke="#222" stroke-width="1"/>
<text x="571.20" y="514.45" font-size="9" text-anchor="end">0</text>
<line x1="572.20" y1="466.50" x2="577.20" y2="466.50" stroke="#222" stroke-width="1"/>
<text x="571.20" y="470.48" font-size="9" text-anchor="end">1</text>
<line x1="572.20" y1="422.50" x2="577.20" y2="422.50" stroke="#222" stroke-width="1"/>
<text x="571.20" y="426.51" font-size="9" text-anchor="end">2</text>
<line x1="572.20" y1="378.50" x2="577.20" y2="378.50" stroke="#222" stroke-width="1"/>
<text x="571.20" y="382.54" font-size="9" text-anchor="end">3</text>
<text x="560.56" y="446.30" font-size="10.69" text-anchor="middle" textLength="125.00" lengthAdjust="spacingAndGlyphs" transform="rotate(-90 560.56 446.30)">Relative HMGB1 expression</text>
<line x1="572.20" y1="510.50" x2="665.60" y2="510.50" stroke="#222" stroke-width="1"/>
<line x1="602.50" y1="510.70" x2="602.50" y2="515.20" stroke="#222" stroke-width="1"/>
<line x1="640.50" y1="510.70" x2="640.50" y2="515.20" stroke="#222" stroke-width="1"/>
<line x1="602.70" y1="386.50" x2="639.70" y2="386.50" stroke="#444" stroke-width="1.0"/>
<polygon points="620.00,379.20 620.65,380.31 621.90,380.58 621.05,381.54 621.18,382.82 620.00,382.30 618.82,382.82 618.95,381.54 618.10,380.58 619.35,380.31" fill="#1a1a1a"/>
<polygon points="624.20,379.20 624.85,380.31 626.10,380.58 625.25,381.54 625.38,382.82 624.20,382.30 623.02,382.82 623.15,381.54 622.30,380.58 623.55,380.31" fill="#1a1a1a"/>
<circle cx="592.11" cy="453.89" r="1.55" fill="#4a6fb5"/>
<circle cx="594.19" cy="453.15" r="1.55" fill="#4a6fb5"/>
<circle cx="598.33" cy="451.67" r="1.55" fill="#4a6fb5"/>
<circle cx="602.48" cy="452.85" r="1.55" fill="#4a6fb5"/>
<circle cx="606.93" cy="452.41" r="1.55" fill="#4a6fb5"/>
<circle cx="610.93" cy="450.63" r="1.55" fill="#4a6fb5"/>
<circle cx="596.56" cy="454.33" r="1.55" fill="#4a6fb5"/>
<circle cx="600.56" cy="453.89" r="1.55" fill="#4a6fb5"/>
<circle cx="608.70" cy="454.63" r="1.55" fill="#4a6fb5"/>
<circle cx="613.15" cy="455.81" r="1.55" fill="#4a6fb5"/>
<circle cx="604.70" cy="457.15" r="1.55" fill="#4a6fb5"/>
<circle cx="602.48" cy="460.26" r="1.55" fill="#4a6fb5"/>
<circle cx="606.93" cy="461.74" r="1.55" fill="#4a6fb5"/>
<circle cx="598.33" cy="463.07" r="1.55" fill="#4a6fb5"/>
<circle cx="592.11" cy="465.00" r="1.55" fill="#4a6fb5"/>
<circle cx="596.11" cy="465.74" r="1.55" fill="#4a6fb5"/>
<circle cx="600.56" cy="466.19" r="1.55" fill="#4a6fb5"/>
<circle cx="604.70" cy="468.70" r="1.55" fill="#4a6fb5"/>
<circle cx="608.70" cy="466.19" r="1.55" fill="#4a6fb5"/>
<circle cx="613.15" cy="467.96" r="1.55" fill="#4a6fb5"/>
<circle cx="598.33" cy="474.19" r="1.55" fill="#4a6fb5"/>
<circle cx="602.48" cy="475.67" r="1.55" fill="#4a6fb5"/>
<circle cx="606.93" cy="473.44" r="1.55" fill="#4a6fb5"/>
<circle cx="594.19" cy="482.04" r="1.55" fill="#4a6fb5"/>
<circle cx="598.33" cy="482.78" r="1.55" fill="#4a6fb5"/>
<circle cx="598.33" cy="484.70" r="1.55" fill="#4a6fb5"/>
<circle cx="602.48" cy="485.74" r="1.55" fill="#4a6fb5"/>
<circle cx="606.93" cy="486.48" r="1.55" fill="#4a6fb5"/>
<circle cx="602.48" cy="480.56" r="1.55" fill="#4a6fb5"/>
<circle cx="606.93" cy="479.81" r="1.55" fill="#4a6fb5"/>
<circle cx="610.93" cy="479.81" r="1.55" fill="#4a6fb5"/>
<rect x="638.81" y="392.88" width="2.90" height="2.90" fill="#e8383a"/>
<rect x="638.81" y="399.11" width="2.90" height="2.90" fill="#e8383a"/>
<rect x="643.55" y="400.88" width="2.90" height="2.90" fill="#e8383a"/>
<rect x="638.81" y="402.51" width="2.90" height="2.90" fill="#e8383a"/>
<rect x="633.92" y="403.99" width="2.90" height="2.90" fill="#e8383a"/>
<rect x="633.92" y="410.96" width="2.90" height="2.90" fill="#e8383a"/>
<rect x="636.14" y="409.48" width="2.90" height="2.90" fill="#e8383a"/>
<rect x="641.33" y="408.74" width="2.90" height="2.90" fill="#e8383a"/>
<rect x="643.55" y="411.99" width="2.90" height="2.90" fill="#e8383a"/>
<rect x="648.74" y="412.88" width="2.90" height="2.90" fill="#e8383a"/>
<rect x="628.74" y="414.66" width="2.90" height="2.90" fill="#e8383a"/>
<rect x="638.81" y="414.36" width="2.90" height="2.90" fill="#e8383a"/>
<rect x="630.96" y="418.36" width="2.90" height="2.90" fill="#e8383a"/>
<rect x="636.14" y="419.40" width="2.90" height="2.90" fill="#e8383a"/>
<rect x="641.33" y="419.85" width="2.90" height="2.90" fill="#e8383a"/>
<rect x="646.07" y="417.92" width="2.90" height="2.90" fill="#e8383a"/>
<rect x="630.96" y="423.85" width="2.90" height="2.90" fill="#e8383a"/>
<rect x="636.14" y="424.29" width="2.90" height="2.90" fill="#e8383a"/>
<rect x="641.33" y="423.55" width="2.90" height="2.90" fill="#e8383a"/>
<rect x="646.07" y="423.85" width="2.90" height="2.90" fill="#e8383a"/>
<rect x="633.92" y="429.48" width="2.90" height="2.90" fill="#e8383a"/>
<rect x="643.55" y="429.18" width="2.90" height="2.90" fill="#e8383a"/>
<rect x="638.81" y="432.44" width="2.90" height="2.90" fill="#e8383a"/>
<rect x="636.14" y="434.66" width="2.90" height="2.90" fill="#e8383a"/>
<rect x="641.33" y="433.92" width="2.90" height="2.90" fill="#e8383a"/>
<rect x="646.07" y="434.66" width="2.90" height="2.90" fill="#e8383a"/>
<rect x="630.96" y="436.59" width="2.90" height="2.90" fill="#e8383a"/>
<rect x="630.96" y="441.03" width="2.90" height="2.90" fill="#e8383a"/>
<rect x="636.14" y="441.62" width="2.90" height="2.90" fill="#e8383a"/>
<rect x="641.33" y="443.85" width="2.90" height="2.90" fill="#e8383a"/>
<rect x="646.07" y="443.85" width="2.90" height="2.90" fill="#e8383a"/>
<line x1="602.50" y1="454.30" x2="602.50" y2="478.30" stroke="#222" stroke-width="1.1"/>
<line x1="596.60" y1="454.50" x2="608.70" y2="454.50" stroke="#222" stroke-width="1.1"/>
<line x1="596.60" y1="478.50" x2="608.70" y2="478.50" stroke="#222" stroke-width="1.1"/>
<line x1="590.20" y1="466.50" x2="614.90" y2="466.50" stroke="#222" stroke-width="1.1"/>
<line x1="640.50" y1="408.40" x2="640.50" y2="436.60" stroke="#222" stroke-width="1.1"/>
<line x1="634.30" y1="408.50" x2="646.20" y2="408.50" stroke="#222" stroke-width="1.1"/>
<line x1="634.30" y1="436.50" x2="646.20" y2="436.50" stroke="#222" stroke-width="1.1"/>
<line x1="628.00" y1="422.50" x2="652.70" y2="422.50" stroke="#222" stroke-width="1.1"/>
<text x="599.50" y="525.50" font-size="8.8" text-anchor="middle">Control</text>
<text x="640.60" y="525.50" font-size="8.8" text-anchor="middle">AR</text>
<text transform="translate(1.96 556.80) scale(0.92 1)" font-size="17.8" fill="#111">L</text>
<line x1="36.50" y1="573.60" x2="36.50" y2="684.10" stroke="#222" stroke-width="1"/>
<line x1="32.00" y1="680.50" x2="36.50" y2="680.50" stroke="#222" stroke-width="1"/>
<text x="31.60" y="683.20" font-size="8.6" text-anchor="end">1.0</text>
<line x1="32.00" y1="653.50" x2="36.50" y2="653.50" stroke="#222" stroke-width="1"/>
<text x="31.60" y="656.58" font-size="8.6" text-anchor="end">1.5</text>
<line x1="32.00" y1="626.50" x2="36.50" y2="626.50" stroke="#222" stroke-width="1"/>
<text x="31.60" y="629.95" font-size="8.6" text-anchor="end">2.0</text>
<line x1="32.00" y1="600.50" x2="36.50" y2="600.50" stroke="#222" stroke-width="1"/>
<text x="31.60" y="603.33" font-size="8.6" text-anchor="end">2.5</text>
<line x1="32.00" y1="573.50" x2="36.50" y2="573.50" stroke="#222" stroke-width="1"/>
<text x="31.60" y="576.70" font-size="8.6" text-anchor="end">3.0</text>
<line x1="36.50" y1="680.50" x2="195.60" y2="680.50" stroke="#222" stroke-width="1"/>
<line x1="36.50" y1="680.10" x2="36.50" y2="684.10" stroke="#222" stroke-width="1"/>
<text x="36.70" y="693.20" font-size="8.6" text-anchor="middle">0.0</text>
<line x1="76.50" y1="680.10" x2="76.50" y2="684.10" stroke="#222" stroke-width="1"/>
<text x="76.50" y="693.20" font-size="8.6" text-anchor="middle">0.5</text>
<line x1="116.50" y1="680.10" x2="116.50" y2="684.10" stroke="#222" stroke-width="1"/>
<text x="116.30" y="693.20" font-size="8.6" text-anchor="middle">1.0</text>
<line x1="155.50" y1="680.10" x2="155.50" y2="684.10" stroke="#222" stroke-width="1"/>
<text x="156.10" y="693.20" font-size="8.6" text-anchor="middle">1.5</text>
<line x1="195.50" y1="680.10" x2="195.50" y2="684.10" stroke="#222" stroke-width="1"/>
<text x="195.90" y="693.20" font-size="8.6" text-anchor="middle">2.0</text>
<text x="114.80" y="704.90" font-size="10.69" text-anchor="middle" textLength="123.25" lengthAdjust="spacingAndGlyphs">Relative JARID2 expression</text>
<text x="15.46" y="627.00" font-size="10.69" text-anchor="middle" textLength="124.35" lengthAdjust="spacingAndGlyphs" transform="rotate(-90 15.46 627.00)">Relative HMGB1 expression</text>
<circle cx="74.74" cy="601.90" r="2.25" fill="#000"/>
<circle cx="84.67" cy="603.65" r="2.25" fill="#000"/>
<circle cx="78.25" cy="616.79" r="2.25" fill="#000"/>
<circle cx="84.67" cy="625.26" r="2.25" fill="#000"/>
<circle cx="91.09" cy="611.53" r="2.25" fill="#000"/>
<circle cx="92.85" cy="615.33" r="2.25" fill="#000"/>
<circle cx="89.93" cy="622.63" r="2.25" fill="#000"/>
<circle cx="97.81" cy="606.57" r="2.25" fill="#000"/>
<circle cx="98.69" cy="600.73" r="2.25" fill="#000"/>
<circle cx="104.23" cy="592.55" r="2.25" fill="#000"/>
<circle cx="96.35" cy="629.93" r="2.25" fill="#000"/>
<circle cx="107.45" cy="624.67" r="2.25" fill="#000"/>
<circle cx="113.87" cy="618.83" r="2.25" fill="#000"/>
<circle cx="115.33" cy="629.05" r="2.25" fill="#000"/>
<circle cx="120.58" cy="612.41" r="2.25" fill="#000"/>
<circle cx="121.75" cy="614.45" r="2.25" fill="#000"/>
<circle cx="131.39" cy="618.25" r="2.25" fill="#000"/>
<circle cx="127.01" cy="630.51" r="2.25" fill="#000"/>
<circle cx="130.51" cy="629.93" r="2.25" fill="#000"/>
<circle cx="133.72" cy="636.35" r="2.25" fill="#000"/>
<circle cx="126.42" cy="642.19" r="2.25" fill="#000"/>
<circle cx="127.88" cy="650.95" r="2.25" fill="#000"/>
<circle cx="114.74" cy="645.69" r="2.25" fill="#000"/>
<circle cx="135.77" cy="653.87" r="2.25" fill="#000"/>
<circle cx="141.61" cy="639.85" r="2.25" fill="#000"/>
<circle cx="145.99" cy="643.07" r="2.25" fill="#000"/>
<circle cx="150.36" cy="643.07" r="2.25" fill="#000"/>
<circle cx="148.03" cy="650.36" r="2.25" fill="#000"/>
<circle cx="156.79" cy="653.87" r="2.25" fill="#000"/>
<line x1="75.30" y1="605.70" x2="156.80" y2="648.60" stroke="#222" stroke-width="1.0"/>
<text x="48.70" y="649.00" font-size="9.8" fill="#1e1e1e">R<tspan font-size="5.68" dy="-3.72">2</tspan><tspan dy="3.72">=0.5342</tspan></text>
<text x="48.70" y="663.70" font-size="9.6">P&lt;0.0001</text>
<text transform="translate(196.56 556.60) scale(0.92 1)" font-size="17.8" fill="#111">M</text>
<line x1="233.50" y1="561.10" x2="233.50" y2="689.10" stroke="#222" stroke-width="1"/>
<line x1="228.00" y1="689.50" x2="233.00" y2="689.50" stroke="#222" stroke-width="1"/>
<text x="227.00" y="692.85" font-size="9" text-anchor="end">0</text>
<line x1="228.00" y1="657.50" x2="233.00" y2="657.50" stroke="#222" stroke-width="1"/>
<text x="227.00" y="660.85" font-size="9" text-anchor="end">2</text>
<line x1="228.00" y1="625.50" x2="233.00" y2="625.50" stroke="#222" stroke-width="1"/>
<text x="227.00" y="628.85" font-size="9" text-anchor="end">4</text>
<line x1="228.00" y1="593.50" x2="233.00" y2="593.50" stroke="#222" stroke-width="1"/>
<text x="227.00" y="596.85" font-size="9" text-anchor="end">6</text>
<line x1="228.00" y1="561.50" x2="233.00" y2="561.50" stroke="#222" stroke-width="1"/>
<text x="227.00" y="564.85" font-size="9" text-anchor="end">8</text>
<text x="219.06" y="627.40" font-size="10.69" text-anchor="middle" textLength="124.00" lengthAdjust="spacingAndGlyphs" transform="rotate(-90 219.06 627.40)">Relative HMGB1 expression</text>
<line x1="233.00" y1="689.00" x2="362.50" y2="689.00" stroke="#444" stroke-width="1"/>
<rect x="244.40" y="673.28" width="16.80" height="15.82" fill="#e1e1e1" stroke="#2a2218" stroke-width="1.0"/>
<rect x="273.60" y="677.60" width="17.60" height="11.50" fill="#edc99b" stroke="#2a2218" stroke-width="1.0"/>
<rect x="303.70" y="592.80" width="17.60" height="96.30" fill="#5877b8" stroke="#1a2540" stroke-width="1.0"/>
<rect x="332.90" y="675.20" width="17.70" height="13.90" fill="#a2e0e0" stroke="#1e3a3a" stroke-width="1.0"/>
<line x1="253.50" y1="689.10" x2="253.50" y2="693.60" stroke="#222" stroke-width="1"/>
<line x1="283.50" y1="689.10" x2="283.50" y2="693.60" stroke="#222" stroke-width="1"/>
<line x1="313.50" y1="689.10" x2="313.50" y2="693.60" stroke="#222" stroke-width="1"/>
<line x1="342.50" y1="689.10" x2="342.50" y2="693.60" stroke="#222" stroke-width="1"/>
<line x1="248.80" y1="576.00" x2="312.70" y2="576.00" stroke="#4a4a4a" stroke-width="1.0"/>
<polygon points="280.50,568.80 281.15,569.91 282.40,570.18 281.55,571.14 281.68,572.42 280.50,571.90 279.32,572.42 279.45,571.14 278.60,570.18 279.85,569.91" fill="#1a1a1a"/>
<polygon points="284.70,568.80 285.35,569.91 286.60,570.18 285.75,571.14 285.88,572.42 284.70,571.90 283.52,572.42 283.65,571.14 282.80,570.18 284.05,569.91" fill="#1a1a1a"/>
<line x1="311.20" y1="569.00" x2="341.00" y2="569.00" stroke="#4a4a4a" stroke-width="1.0"/>
<polygon points="324.90,560.70 325.55,561.81 326.80,562.08 325.95,563.04 326.08,564.32 324.90,563.80 323.72,564.32 323.85,563.04 323.00,562.08 324.25,561.81" fill="#1a1a1a"/>
<polygon points="329.10,560.70 329.75,561.81 331.00,562.08 330.15,563.04 330.28,564.32 329.10,563.80 327.92,564.32 328.05,563.04 327.20,562.08 328.45,561.81" fill="#1a1a1a"/>
<text x="249.51" y="709.21" font-size="8.5" text-anchor="middle" transform="rotate(-45 249.51 709.21)">sh-NC</text>
<text x="266.11" y="721.01" font-size="8.5" text-anchor="middle" transform="rotate(-45 266.11 721.01)">sh-circCDKAL1</text>
<text x="301.21" y="714.81" font-size="8.5" text-anchor="middle" transform="rotate(-45 301.21 714.81)">sh-JARID2</text>
<text x="325.91" y="720.81" font-size="8.5" text-anchor="middle" transform="rotate(-45 325.91 720.81)">sh-circCDKAL1</text>
<text x="334.11" y="726.71" font-size="8.5" text-anchor="middle" transform="rotate(-45 334.11 726.71)">+sh-JARID2</text>
<text transform="translate(367.16 556.60) scale(0.92 1)" font-size="17.8" fill="#111">N</text>
<defs><linearGradient id="blotN" x1="0" x2="1"><stop offset="0" stop-color="#a9a9a9"/><stop offset="0.5" stop-color="#adadad"/><stop offset="1" stop-color="#a7a7a7"/></linearGradient></defs>
<rect x="397.70" y="580.60" width="132.40" height="19.50" fill="url(#blotN)" stroke="#333" stroke-width="1.1"/>
<rect x="397.70" y="606.70" width="132.40" height="18.70" fill="url(#blotN)" stroke="#333" stroke-width="1.1"/>
<path d="M404.50,588.10 Q410.03,588.10 415.65,588.97 Q421.27,588.10 426.80,588.10 A2.90,2.90 0 0 1 426.80,593.90 Q421.27,593.90 415.65,593.03 Q410.03,593.90 404.50,593.90 A2.90,2.90 0 0 1 404.50,588.10 Z" fill="#454545" filter="url(#bb)"/>
<path d="M436.80,588.70 Q443.12,588.70 448.80,589.36 Q454.48,588.70 460.80,588.70 A2.20,2.20 0 0 1 460.80,593.10 Q454.48,593.10 448.80,592.44 Q443.12,593.10 436.80,593.10 A2.20,2.20 0 0 1 436.80,588.70 Z" fill="#555555" filter="url(#bb)"/>
<path d="M470.15,587.35 Q475.65,587.35 481.35,588.26 Q487.05,587.35 492.55,587.35 A3.05,3.05 0 0 1 492.55,593.45 Q487.05,593.45 481.35,592.53 Q475.65,593.45 470.15,593.45 A3.05,3.05 0 0 1 470.15,587.35 Z" fill="#404040" filter="url(#bb)"/>
<rect x="498.80" y="588.10" width="26.40" height="4.40" rx="4.38" ry="2.50" fill="#454545" filter="url(#bb)"/>
<rect x="400.60" y="612.60" width="27.60" height="7.60" rx="4.58" ry="4.10" fill="#404040" filter="url(#bb)"/>
<rect x="433.80" y="612.60" width="28.10" height="7.60" rx="4.66" ry="4.10" fill="#404040" filter="url(#bb)"/>
<path d="M470.25,612.15 Q475.16,612.15 481.00,613.30 Q486.84,612.15 491.75,612.15 A3.85,3.85 0 0 1 491.75,619.85 Q486.84,619.85 481.00,618.70 Q475.16,619.85 470.25,619.85 A3.85,3.85 0 0 1 470.25,612.15 Z" fill="#404040" filter="url(#bb)"/>
<rect x="499.90" y="612.05" width="26.90" height="6.50" rx="4.46" ry="3.55" fill="#404040" filter="url(#bb)"/>
<text x="394.30" y="597.20" font-size="9" text-anchor="end" textLength="29.20" lengthAdjust="spacingAndGlyphs">HMGB1</text>
<text x="395.40" y="619.70" font-size="9" text-anchor="end" textLength="25.30" lengthAdjust="spacingAndGlyphs">β-actin</text>
<text x="416.01" y="642.41" font-size="8.5" text-anchor="middle" transform="rotate(-45 416.01 642.41)">sh-NC</text>
<text x="435.51" y="653.81" font-size="8.5" text-anchor="middle" transform="rotate(-45 435.51 653.81)">sh-circCDKAL1</text>
<text x="472.01" y="647.61" font-size="8.5" text-anchor="middle" transform="rotate(-45 472.01 647.61)">sh-JARID2</text>
<text x="496.91" y="653.81" font-size="8.5" text-anchor="middle" transform="rotate(-45 496.91 653.81)">sh-circCDKAL1</text>
<text x="504.51" y="659.51" font-size="8.5" text-anchor="middle" transform="rotate(-45 504.51 659.51)">+sh-JARID2</text>
<line x1="562.00" y1="568.10" x2="562.00" y2="689.00" stroke="#444" stroke-width="1"/>
<line x1="556.70" y1="689.50" x2="562.00" y2="689.50" stroke="#222" stroke-width="1"/>
<text x="555.70" y="692.00" font-size="8.8" text-anchor="end">0.0</text>
<line x1="556.70" y1="648.50" x2="562.00" y2="648.50" stroke="#222" stroke-width="1"/>
<text x="555.70" y="651.70" font-size="8.8" text-anchor="end">0.5</text>
<line x1="556.70" y1="608.50" x2="562.00" y2="608.50" stroke="#222" stroke-width="1"/>
<text x="555.70" y="611.40" font-size="8.8" text-anchor="end">1.0</text>
<line x1="556.70" y1="568.50" x2="562.00" y2="568.50" stroke="#222" stroke-width="1"/>
<text x="555.70" y="571.10" font-size="8.8" text-anchor="end">1.5</text>
<text x="541.63" y="630.45" font-size="10.58" text-anchor="middle" textLength="139.70" lengthAdjust="spacingAndGlyphs" transform="rotate(-90 541.63 630.45)">Relative protein level of HMGB1</text>
<line x1="562.40" y1="689.50" x2="683.80" y2="689.50" stroke="#222" stroke-width="1"/>
<rect x="572.10" y="642.75" width="16.70" height="46.25" fill="#e1e1e1" stroke="#2a2218" stroke-width="1.0"/>
<rect x="600.10" y="664.51" width="16.20" height="24.49" fill="#edc99b" stroke="#2a2218" stroke-width="1.0"/>
<rect x="628.50" y="623.41" width="16.20" height="65.59" fill="#5877b8" stroke="#1a2540" stroke-width="1.0"/>
<rect x="656.00" y="637.92" width="16.20" height="51.08" fill="#a2e0e0" stroke="#1e3a3a" stroke-width="1.0"/>
<line x1="580.50" y1="689.00" x2="580.50" y2="693.50" stroke="#222" stroke-width="1"/>
<line x1="608.50" y1="689.00" x2="608.50" y2="693.50" stroke="#222" stroke-width="1"/>
<line x1="636.50" y1="689.00" x2="636.50" y2="693.50" stroke="#222" stroke-width="1"/>
<line x1="664.50" y1="689.00" x2="664.50" y2="693.50" stroke="#222" stroke-width="1"/>
<line x1="580.20" y1="581.00" x2="636.90" y2="581.00" stroke="#4a4a4a" stroke-width="1.0"/>
<polygon points="606.45,573.20 607.10,574.31 608.35,574.58 607.50,575.54 607.63,576.82 606.45,576.30 605.27,576.82 605.40,575.54 604.55,574.58 605.80,574.31" fill="#1a1a1a"/>
<polygon points="610.65,573.20 611.30,574.31 612.55,574.58 611.70,575.54 611.83,576.82 610.65,576.30 609.47,576.82 609.60,575.54 608.75,574.58 610.00,574.31" fill="#1a1a1a"/>
<line x1="609.40" y1="595.00" x2="665.20" y2="595.00" stroke="#4a4a4a" stroke-width="1.0"/>
<polygon points="637.00,587.20 637.65,588.31 638.90,588.58 638.05,589.54 638.18,590.82 637.00,590.30 635.82,590.82 635.95,589.54 635.10,588.58 636.35,588.31" fill="#1a1a1a"/>
<polygon points="641.20,587.20 641.85,588.31 643.10,588.58 642.25,589.54 642.38,590.82 641.20,590.30 640.02,590.82 640.15,589.54 639.30,588.58 640.55,588.31" fill="#1a1a1a"/>
<line x1="579.60" y1="605.00" x2="608.80" y2="605.00" stroke="#4a4a4a" stroke-width="1.0"/>
<polygon points="592.10,597.20 592.75,598.31 594.00,598.58 593.15,599.54 593.28,600.82 592.10,600.30 590.92,600.82 591.05,599.54 590.20,598.58 591.45,598.31" fill="#1a1a1a"/>
<polygon points="596.30,597.20 596.95,598.31 598.20,598.58 597.35,599.54 597.48,600.82 596.30,600.30 595.12,600.82 595.25,599.54 594.40,598.58 595.65,598.31" fill="#1a1a1a"/>
<line x1="637.40" y1="606.50" x2="666.70" y2="606.50" stroke="#333" stroke-width="1.0"/>
<polygon points="652.05,598.70 652.70,599.81 653.95,600.08 653.10,601.04 653.23,602.32 652.05,601.80 650.87,602.32 651.00,601.04 650.15,600.08 651.40,599.81" fill="#1a1a1a"/>
<text x="575.71" y="708.71" font-size="8.5" text-anchor="middle" transform="rotate(-45 575.71 708.71)">sh-NC</text>
<text x="592.31" y="720.61" font-size="8.5" text-anchor="middle" transform="rotate(-45 592.31 720.61)">sh-circCDKAL1</text>
<text x="627.51" y="714.41" font-size="8.5" text-anchor="middle" transform="rotate(-45 627.51 714.41)">sh-HMGB1</text>
<text x="651.71" y="720.61" font-size="8.5" text-anchor="middle" transform="rotate(-45 651.71 720.61)">sh-circCDKAL1</text>
<text x="660.21" y="726.21" font-size="8.5" text-anchor="middle" transform="rotate(-45 660.21 726.21)">+sh-JARID2</text>
<circle cx="563.70" cy="288.60" r="2.40" fill="#e8383a"/>
<circle cx="569.30" cy="284.80" r="2.40" fill="#e8383a"/>
<circle cx="569.30" cy="290.60" r="2.40" fill="#e8383a"/>
<circle cx="574.30" cy="291.20" r="2.40" fill="#e8383a"/>
<line x1="569.50" y1="286.50" x2="569.50" y2="291.50" stroke="#111" stroke-width="1.1"/>
<line x1="565.40" y1="286.50" x2="573.20" y2="286.50" stroke="#111" stroke-width="1.1"/>
<line x1="565.40" y1="291.50" x2="573.20" y2="291.50" stroke="#111" stroke-width="1.1"/>
<rect x="586.35" y="207.85" width="4.50" height="4.50" fill="#e8383a"/>
<rect x="594.35" y="211.55" width="4.50" height="4.50" fill="#e8383a"/>
<rect x="590.55" y="222.05" width="4.50" height="4.50" fill="#e8383a"/>
<rect x="590.55" y="230.45" width="4.50" height="4.50" fill="#e8383a"/>
<line x1="592.50" y1="210.10" x2="592.50" y2="230.60" stroke="#111" stroke-width="1.1"/>
<line x1="588.80" y1="210.50" x2="596.80" y2="210.50" stroke="#111" stroke-width="1.1"/>
<line x1="588.80" y1="230.50" x2="596.80" y2="230.50" stroke="#111" stroke-width="1.1"/>
<circle cx="626.80" cy="287.60" r="2.40" fill="#e8383a"/>
<circle cx="631.90" cy="284.80" r="2.40" fill="#e8383a"/>
<circle cx="631.90" cy="288.60" r="2.40" fill="#e8383a"/>
<circle cx="636.90" cy="292.70" r="2.40" fill="#e8383a"/>
<line x1="631.50" y1="286.50" x2="631.50" y2="291.50" stroke="#111" stroke-width="1.1"/>
<line x1="628.00" y1="286.50" x2="635.80" y2="286.50" stroke="#111" stroke-width="1.1"/>
<line x1="628.00" y1="291.50" x2="635.80" y2="291.50" stroke="#111" stroke-width="1.1"/>
<rect x="653.15" y="276.65" width="4.50" height="4.50" fill="#e8383a"/>
<rect x="649.25" y="284.75" width="4.50" height="4.50" fill="#e8383a"/>
<rect x="653.15" y="282.55" width="4.50" height="4.50" fill="#e8383a"/>
<rect x="657.15" y="288.35" width="4.50" height="4.50" fill="#e8383a"/>
<line x1="655.50" y1="281.10" x2="655.50" y2="290.60" stroke="#111" stroke-width="1.1"/>
<line x1="651.40" y1="281.50" x2="659.40" y2="281.50" stroke="#111" stroke-width="1.1"/>
<line x1="651.40" y1="290.50" x2="659.40" y2="290.50" stroke="#111" stroke-width="1.1"/>
<circle cx="37.40" cy="467.20" r="2.40" fill="#e8383a"/>
<circle cx="42.30" cy="468.10" r="2.40" fill="#e8383a"/>
<circle cx="47.20" cy="469.00" r="2.40" fill="#e8383a"/>
<circle cx="52.20" cy="469.50" r="2.40" fill="#e8383a"/>
<line x1="45.50" y1="467.90" x2="45.50" y2="470.00" stroke="#111" stroke-width="1.1"/>
<line x1="41.00" y1="467.50" x2="49.00" y2="467.50" stroke="#111" stroke-width="1.1"/>
<line x1="41.00" y1="470.50" x2="49.00" y2="470.50" stroke="#111" stroke-width="1.1"/>
<rect x="72.45" y="378.65" width="4.50" height="4.50" fill="#e8383a"/>
<rect x="72.45" y="387.55" width="4.50" height="4.50" fill="#e8383a"/>
<rect x="67.15" y="396.65" width="4.50" height="4.50" fill="#e8383a"/>
<rect x="77.15" y="398.45" width="4.50" height="4.50" fill="#e8383a"/>
<line x1="74.50" y1="383.10" x2="74.50" y2="401.90" stroke="#111" stroke-width="1.1"/>
<line x1="69.50" y1="383.50" x2="79.90" y2="383.50" stroke="#111" stroke-width="1.1"/>
<line x1="69.50" y1="401.50" x2="79.90" y2="401.50" stroke="#111" stroke-width="1.1"/>
<polygon points="97.40,384.30 99.90,388.90 94.90,388.90" fill="#e8383a"/>
<polygon points="103.90,386.60 106.40,391.20 101.40,391.20" fill="#e8383a"/>
<polygon points="110.20,387.80 112.70,392.40 107.70,392.40" fill="#e8383a"/>
<polygon points="103.90,398.90 106.40,403.50 101.40,403.50" fill="#e8383a"/>
<line x1="103.50" y1="384.90" x2="103.50" y2="397.20" stroke="#111" stroke-width="1.1"/>
<line x1="98.90" y1="384.50" x2="108.90" y2="384.50" stroke="#111" stroke-width="1.1"/>
<line x1="98.90" y1="397.50" x2="108.90" y2="397.50" stroke="#111" stroke-width="1.1"/>
<polygon points="133.40,443.30 135.90,438.70 130.90,438.70" fill="#e8383a"/>
<polygon points="126.90,449.70 129.40,445.10 124.40,445.10" fill="#e8383a"/>
<polygon points="133.40,453.20 135.90,448.60 130.90,448.60" fill="#e8383a"/>
<polygon points="140.00,454.60 142.50,450.00 137.50,450.00" fill="#e8383a"/>
<line x1="133.50" y1="443.60" x2="133.50" y2="453.60" stroke="#111" stroke-width="1.1"/>
<line x1="128.40" y1="443.50" x2="138.40" y2="443.50" stroke="#111" stroke-width="1.1"/>
<line x1="128.40" y1="453.50" x2="138.40" y2="453.50" stroke="#111" stroke-width="1.1"/>
<circle cx="245.80" cy="671.30" r="2.40" fill="#e8383a"/>
<circle cx="250.90" cy="671.60" r="2.40" fill="#e8383a"/>
<circle cx="255.80" cy="672.10" r="2.40" fill="#e8383a"/>
<circle cx="260.70" cy="674.80" r="2.40" fill="#e8383a"/>
<line x1="252.50" y1="670.50" x2="252.50" y2="673.50" stroke="#111" stroke-width="1.1"/>
<line x1="248.80" y1="670.50" x2="256.80" y2="670.50" stroke="#111" stroke-width="1.1"/>
<line x1="248.80" y1="673.50" x2="256.80" y2="673.50" stroke="#111" stroke-width="1.1"/>
<rect x="273.35" y="672.85" width="4.50" height="4.50" fill="#e8383a"/>
<rect x="278.05" y="673.75" width="4.50" height="4.50" fill="#e8383a"/>
<rect x="282.95" y="674.95" width="4.50" height="4.50" fill="#e8383a"/>
<rect x="288.05" y="677.25" width="4.50" height="4.50" fill="#e8383a"/>
<line x1="282.50" y1="674.80" x2="282.50" y2="679.00" stroke="#111" stroke-width="1.1"/>
<line x1="278.70" y1="674.50" x2="286.70" y2="674.50" stroke="#111" stroke-width="1.1"/>
<line x1="278.70" y1="679.50" x2="286.70" y2="679.50" stroke="#111" stroke-width="1.1"/>
<polygon points="307.40,581.20 309.90,585.80 304.90,585.80" fill="#e8383a"/>
<polygon points="317.10,584.30 319.60,588.90 314.60,588.90" fill="#e8383a"/>
<polygon points="312.20,594.90 314.70,599.50 309.70,599.50" fill="#e8383a"/>
<polygon points="312.20,601.30 314.70,605.90 309.70,605.90" fill="#e8383a"/>
<line x1="312.50" y1="583.10" x2="312.50" y2="601.50" stroke="#111" stroke-width="1.1"/>
<line x1="307.70" y1="583.50" x2="316.70" y2="583.50" stroke="#111" stroke-width="1.1"/>
<line x1="307.70" y1="601.50" x2="316.70" y2="601.50" stroke="#111" stroke-width="1.1"/>
<polygon points="334.60,673.90 337.10,669.30 332.10,669.30" fill="#e8383a"/>
<polygon points="339.50,676.90 342.00,672.30 337.00,672.30" fill="#e8383a"/>
<polygon points="344.20,676.90 346.70,672.30 341.70,672.30" fill="#e8383a"/>
<polygon points="349.50,679.20 352.00,674.60 347.00,674.60" fill="#e8383a"/>
<line x1="341.50" y1="672.50" x2="341.50" y2="675.10" stroke="#111" stroke-width="1.1"/>
<line x1="337.70" y1="672.50" x2="345.70" y2="672.50" stroke="#111" stroke-width="1.1"/>
<line x1="337.70" y1="675.50" x2="345.70" y2="675.50" stroke="#111" stroke-width="1.1"/>
<circle cx="574.10" cy="641.80" r="2.40" fill="#e8383a"/>
<circle cx="580.40" cy="638.70" r="2.40" fill="#e8383a"/>
<circle cx="580.40" cy="643.20" r="2.40" fill="#e8383a"/>
<circle cx="586.40" cy="646.70" r="2.40" fill="#e8383a"/>
<line x1="580.50" y1="639.70" x2="580.50" y2="645.30" stroke="#111" stroke-width="1.1"/>
<line x1="575.80" y1="639.50" x2="585.00" y2="639.50" stroke="#111" stroke-width="1.1"/>
<line x1="575.80" y1="645.50" x2="585.00" y2="645.50" stroke="#111" stroke-width="1.1"/>
<rect x="599.15" y="659.25" width="4.50" height="4.50" fill="#e8383a"/>
<rect x="603.95" y="662.35" width="4.50" height="4.50" fill="#e8383a"/>
<rect x="608.65" y="662.35" width="4.50" height="4.50" fill="#e8383a"/>
<rect x="613.05" y="664.45" width="4.50" height="4.50" fill="#e8383a"/>
<line x1="608.50" y1="662.50" x2="608.50" y2="666.00" stroke="#111" stroke-width="1.1"/>
<line x1="603.50" y1="662.50" x2="612.50" y2="662.50" stroke="#111" stroke-width="1.1"/>
<line x1="603.50" y1="666.50" x2="612.50" y2="666.50" stroke="#111" stroke-width="1.1"/>
<polygon points="636.00,610.10 638.50,614.70 633.50,614.70" fill="#e8383a"/>
<polygon points="636.00,618.50 638.50,623.10 633.50,623.10" fill="#e8383a"/>
<polygon points="631.60,627.30 634.10,631.90 629.10,631.90" fill="#e8383a"/>
<polygon points="640.70,629.00 643.20,633.60 638.20,633.60" fill="#e8383a"/>
<line x1="636.50" y1="614.70" x2="636.50" y2="631.30" stroke="#111" stroke-width="1.1"/>
<line x1="631.50" y1="614.50" x2="640.50" y2="614.50" stroke="#111" stroke-width="1.1"/>
<line x1="631.50" y1="631.50" x2="640.50" y2="631.50" stroke="#111" stroke-width="1.1"/>
<polygon points="664.00,634.50 666.50,629.90 661.50,629.90" fill="#e8383a"/>
<polygon points="657.90,638.50 660.40,633.90 655.40,633.90" fill="#e8383a"/>
<polygon points="664.00,641.00 666.50,636.40 661.50,636.40" fill="#e8383a"/>
<polygon points="670.10,642.40 672.60,637.80 667.60,637.80" fill="#e8383a"/>
<line x1="664.50" y1="634.00" x2="664.50" y2="640.10" stroke="#111" stroke-width="1.1"/>
<line x1="659.50" y1="634.50" x2="668.50" y2="634.50" stroke="#111" stroke-width="1.1"/>
<line x1="659.50" y1="640.50" x2="668.50" y2="640.50" stroke="#111" stroke-width="1.1"/></svg></body></html>
